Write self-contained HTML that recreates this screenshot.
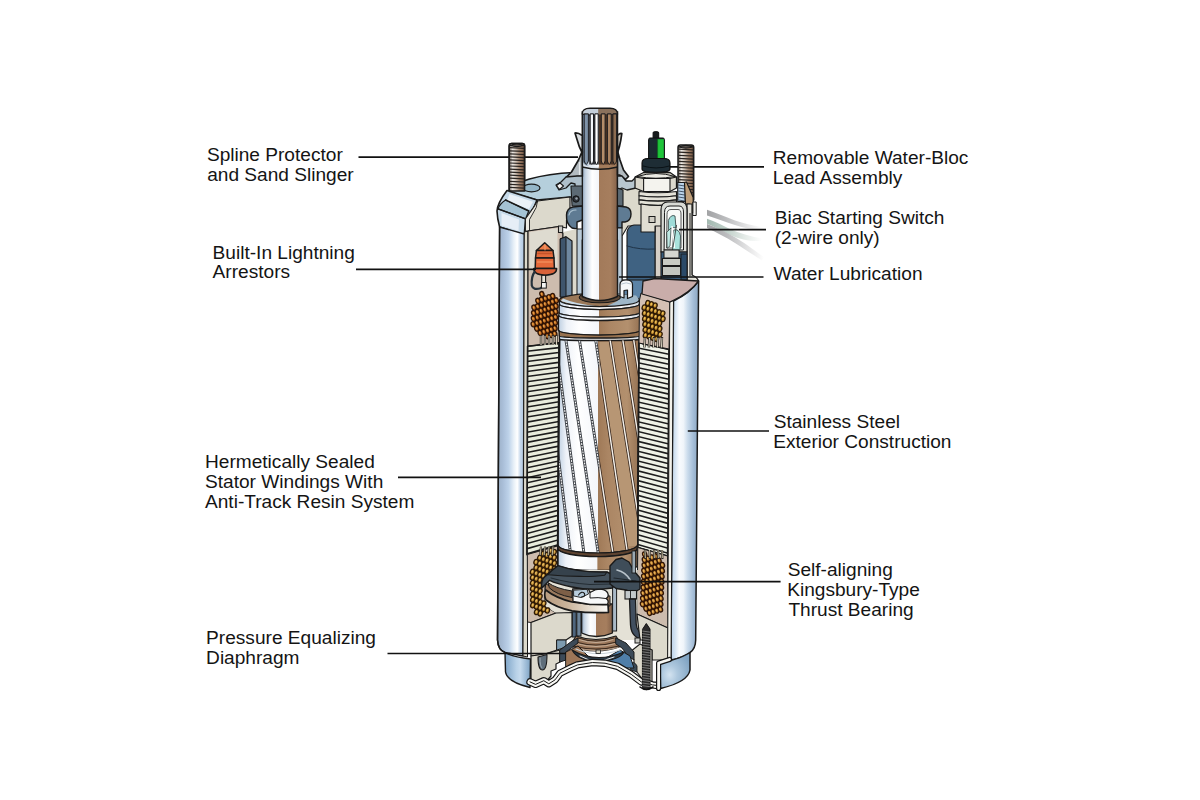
<!DOCTYPE html>
<html lang="en"><head><meta charset="utf-8"><title>Submersible Motor Cutaway</title>
<style>html,body{margin:0;padding:0;background:#fff}svg{display:block}</style></head>
<body>
<svg width="1200" height="800" viewBox="0 0 1200 800">

<defs>
<linearGradient id="shL" x1="0" x2="1" y1="0" y2="0">
 <stop offset="0" stop-color="#9cb0c6"/><stop offset="0.2" stop-color="#a9bed8"/><stop offset="0.42" stop-color="#bed3ea"/>
 <stop offset="0.6" stop-color="#e6eff7"/><stop offset="0.74" stop-color="#ffffff"/><stop offset="0.86" stop-color="#c4d6ea"/><stop offset="1" stop-color="#aec5e0"/>
</linearGradient>
<linearGradient id="shR" x1="0" x2="1" y1="0" y2="0">
 <stop offset="0" stop-color="#b9d0e8"/><stop offset="0.15" stop-color="#d5e4f2"/><stop offset="0.3" stop-color="#f8fbfe"/>
 <stop offset="0.45" stop-color="#f0f5fa"/><stop offset="0.6" stop-color="#cbdcec"/><stop offset="0.8" stop-color="#a5bed8"/><stop offset="1" stop-color="#8aa5c0"/>
</linearGradient>
<linearGradient id="capB" x1="0" x2="1" y1="0" y2="0">
 <stop offset="0" stop-color="#7fa5c8"/><stop offset="0.45" stop-color="#b9d2e8"/><stop offset="0.6" stop-color="#c6dbee"/><stop offset="1" stop-color="#7ea3c4"/>
</linearGradient>
<linearGradient id="shaft" x1="0" x2="1" y1="0" y2="0">
 <stop offset="0" stop-color="#93a9c0"/><stop offset="0.1" stop-color="#c9d6e4"/><stop offset="0.28" stop-color="#ffffff"/>
 <stop offset="0.475" stop-color="#f2f4f8"/><stop offset="0.48" stop-color="#a27a5a"/><stop offset="0.8" stop-color="#a67e5e"/><stop offset="1" stop-color="#84624a"/>
</linearGradient>
<linearGradient id="spl" x1="0" x2="1" y1="0" y2="0">
 <stop offset="0" stop-color="#66798e"/><stop offset="0.22" stop-color="#93a7bc"/><stop offset="0.4" stop-color="#dfe6ee"/><stop offset="1" stop-color="#ffffff"/>
</linearGradient>
<linearGradient id="rotor" x1="0" x2="1" y1="0" y2="0">
 <stop offset="0" stop-color="#bfd0e2"/><stop offset="0.1" stop-color="#eef2f8"/><stop offset="0.25" stop-color="#ffffff"/>
 <stop offset="0.495" stop-color="#f4f6fa"/><stop offset="0.5" stop-color="#a07a58"/><stop offset="0.62" stop-color="#ab8664"/><stop offset="0.85" stop-color="#b3906e"/><stop offset="1" stop-color="#957253"/>
</linearGradient>
<linearGradient id="rotorW" x1="0" x2="1" y1="0" y2="0">
 <stop offset="0" stop-color="#c5d8ea"/><stop offset="0.12" stop-color="#f2f5fa"/><stop offset="0.5" stop-color="#ffffff"/><stop offset="0.8" stop-color="#f4f4f4"/><stop offset="1" stop-color="#d5dde6"/>
</linearGradient>
<linearGradient id="rim" x1="0" x2="1" y1="0" y2="0">
 <stop offset="0" stop-color="#b89c80"/><stop offset="0.35" stop-color="#c9b39a"/><stop offset="0.7" stop-color="#e6ddd0"/><stop offset="1" stop-color="#fbfaf8"/>
</linearGradient>
<radialGradient id="capBR" cx="0.32" cy="0.62" r="0.75">
 <stop offset="0" stop-color="#d3e3f0"/><stop offset="0.35" stop-color="#aec8de"/><stop offset="1" stop-color="#7fa3c2"/>
</radialGradient>
<linearGradient id="stud" x1="0" x2="1" y1="0" y2="0">
 <stop offset="0" stop-color="#6e665f"/><stop offset="0.22" stop-color="#ece9e4"/><stop offset="0.45" stop-color="#cbbdb0"/><stop offset="0.65" stop-color="#a38670"/><stop offset="0.85" stop-color="#8a6a54"/><stop offset="1" stop-color="#4a3a30"/>
</linearGradient>
<linearGradient id="wire" x1="0" x2="1" y1="0" y2="0">
 <stop offset="0" stop-color="#a2a3a5"/><stop offset="0.35" stop-color="#bcbdbf"/><stop offset="0.7" stop-color="#e2e2e3"/><stop offset="1" stop-color="#ffffff"/>
</linearGradient>
<linearGradient id="wire2" x1="0" x2="1" y1="0" y2="0">
 <stop offset="0" stop-color="#a3b9b0"/><stop offset="0.35" stop-color="#c0d0c9"/><stop offset="0.7" stop-color="#e6ece9"/><stop offset="1" stop-color="#ffffff"/>
</linearGradient>
</defs>

<rect width="1200" height="800" fill="#ffffff"/>
<path d="M707,209.7 C716,213 726,217 735,220.4 C744,223.5 752,225.3 762,227 L762,229.5 C752,229.5 744,228 735,224.9 C726,222 716,218.5 707,215.5 Z" fill="url(#wire)" stroke="none" stroke-width="0" stroke-linejoin="round" stroke-linecap="round" />
<path d="M707,218.7 C715,221.5 723,225.5 729.4,228.8 C740,233.5 750,236.5 762,238.5 L762,241 C750,241.5 740,239.5 729,234.5 C722,231 715,227 707,223.7 Z" fill="url(#wire2)" stroke="none" stroke-width="0" stroke-linejoin="round" stroke-linecap="round" />
<path d="M707,223.9 C716,227 726,232 735,237.2 C744,242.5 752,248.5 764,257 L762,260.5 C752,254 744,248.5 735,242.9 C726,237.5 716,232 707,228 Z" fill="url(#wire)" stroke="none" stroke-width="0" stroke-linejoin="round" stroke-linecap="round" />
<line x1="358.5" y1="157.1" x2="578.0" y2="157.1" stroke="#111" stroke-width="1.7" />
<line x1="668.0" y1="166.8" x2="764.0" y2="166.8" stroke="#111" stroke-width="1.7" />
<path d="M509.2,192 L509.2,146.0 Q509.2,143.5 511.7,143.5 L522.1,143.5 Q524.6,143.5 524.6,146.0 L524.6,192 Z" fill="url(#stud)" stroke="#1a1a1a" stroke-width="1.5" stroke-linejoin="round" stroke-linecap="round" />
<line x1="509.7" y1="147.7" x2="524.1" y2="148.4" stroke="#2a2420" stroke-width="1.2" />
<line x1="509.7" y1="150.8" x2="524.1" y2="151.4" stroke="#2a2420" stroke-width="1.2" />
<line x1="509.7" y1="153.8" x2="524.1" y2="154.5" stroke="#2a2420" stroke-width="1.2" />
<line x1="509.7" y1="156.9" x2="524.1" y2="157.6" stroke="#2a2420" stroke-width="1.2" />
<line x1="509.7" y1="159.9" x2="524.1" y2="160.6" stroke="#2a2420" stroke-width="1.2" />
<line x1="509.7" y1="163.0" x2="524.1" y2="163.7" stroke="#2a2420" stroke-width="1.2" />
<line x1="509.7" y1="166.0" x2="524.1" y2="166.7" stroke="#2a2420" stroke-width="1.2" />
<line x1="509.7" y1="169.1" x2="524.1" y2="169.8" stroke="#2a2420" stroke-width="1.2" />
<line x1="509.7" y1="172.1" x2="524.1" y2="172.8" stroke="#2a2420" stroke-width="1.2" />
<line x1="509.7" y1="175.2" x2="524.1" y2="175.9" stroke="#2a2420" stroke-width="1.2" />
<line x1="509.7" y1="178.2" x2="524.1" y2="178.9" stroke="#2a2420" stroke-width="1.2" />
<line x1="509.7" y1="181.3" x2="524.1" y2="182.0" stroke="#2a2420" stroke-width="1.2" />
<line x1="509.7" y1="184.3" x2="524.1" y2="185.0" stroke="#2a2420" stroke-width="1.2" />
<line x1="509.7" y1="187.4" x2="524.1" y2="188.1" stroke="#2a2420" stroke-width="1.2" />
<line x1="509.7" y1="190.4" x2="524.1" y2="191.1" stroke="#2a2420" stroke-width="1.2" />
<path d="M510.2,145.5 Q516.9,142.3 523.6,145.5 Q516.9,147.7 510.2,145.5 Z" fill="#5e5650" stroke="#1a1a1a" stroke-width="1.1" stroke-linejoin="round" stroke-linecap="round" />
<path d="M678,200 L678,147.5 Q678,145 680.5,145 L691.2,145 Q693.7,145 693.7,147.5 L693.7,200 Z" fill="url(#stud)" stroke="#1a1a1a" stroke-width="1.5" stroke-linejoin="round" stroke-linecap="round" />
<line x1="678.5" y1="149.2" x2="693.2" y2="149.9" stroke="#2a2420" stroke-width="1.2" />
<line x1="678.5" y1="152.2" x2="693.2" y2="152.9" stroke="#2a2420" stroke-width="1.2" />
<line x1="678.5" y1="155.3" x2="693.2" y2="156.0" stroke="#2a2420" stroke-width="1.2" />
<line x1="678.5" y1="158.4" x2="693.2" y2="159.1" stroke="#2a2420" stroke-width="1.2" />
<line x1="678.5" y1="161.4" x2="693.2" y2="162.1" stroke="#2a2420" stroke-width="1.2" />
<line x1="678.5" y1="164.5" x2="693.2" y2="165.2" stroke="#2a2420" stroke-width="1.2" />
<line x1="678.5" y1="167.5" x2="693.2" y2="168.2" stroke="#2a2420" stroke-width="1.2" />
<line x1="678.5" y1="170.6" x2="693.2" y2="171.3" stroke="#2a2420" stroke-width="1.2" />
<line x1="678.5" y1="173.6" x2="693.2" y2="174.3" stroke="#2a2420" stroke-width="1.2" />
<line x1="678.5" y1="176.7" x2="693.2" y2="177.4" stroke="#2a2420" stroke-width="1.2" />
<line x1="678.5" y1="179.7" x2="693.2" y2="180.4" stroke="#2a2420" stroke-width="1.2" />
<line x1="678.5" y1="182.8" x2="693.2" y2="183.5" stroke="#2a2420" stroke-width="1.2" />
<line x1="678.5" y1="185.8" x2="693.2" y2="186.5" stroke="#2a2420" stroke-width="1.2" />
<line x1="678.5" y1="188.9" x2="693.2" y2="189.6" stroke="#2a2420" stroke-width="1.2" />
<line x1="678.5" y1="191.9" x2="693.2" y2="192.6" stroke="#2a2420" stroke-width="1.2" />
<line x1="678.5" y1="195.0" x2="693.2" y2="195.7" stroke="#2a2420" stroke-width="1.2" />
<line x1="678.5" y1="198.0" x2="693.2" y2="198.7" stroke="#2a2420" stroke-width="1.2" />
<path d="M679,147 Q685.85,143.8 692.7,147 Q685.85,149.2 679,147 Z" fill="#5e5650" stroke="#1a1a1a" stroke-width="1.1" stroke-linejoin="round" stroke-linecap="round" />
<path d="M509,192 C511,182 540,174 574,172.5 L583,172.3 L583,197 L570,197 L537,200 Z" fill="#b5cfdc" stroke="#1a1a1a" stroke-width="1.5" stroke-linejoin="round" stroke-linecap="round" />
<ellipse cx="531.5" cy="188" rx="8.5" ry="3.8" fill="#94b6c8" stroke="#1a1a1a" stroke-width="1.2"/>
<path d="M509.2,191 L509.2,146.0 Q509.2,143.5 511.7,143.5 L522.1,143.5 Q524.6,143.5 524.6,146.0 L524.6,191 Z" fill="url(#stud)" stroke="#1a1a1a" stroke-width="1.5" stroke-linejoin="round" stroke-linecap="round" />
<line x1="509.7" y1="147.7" x2="524.1" y2="148.4" stroke="#2a2420" stroke-width="1.2" />
<line x1="509.7" y1="150.8" x2="524.1" y2="151.4" stroke="#2a2420" stroke-width="1.2" />
<line x1="509.7" y1="153.8" x2="524.1" y2="154.5" stroke="#2a2420" stroke-width="1.2" />
<line x1="509.7" y1="156.9" x2="524.1" y2="157.6" stroke="#2a2420" stroke-width="1.2" />
<line x1="509.7" y1="159.9" x2="524.1" y2="160.6" stroke="#2a2420" stroke-width="1.2" />
<line x1="509.7" y1="163.0" x2="524.1" y2="163.7" stroke="#2a2420" stroke-width="1.2" />
<line x1="509.7" y1="166.0" x2="524.1" y2="166.7" stroke="#2a2420" stroke-width="1.2" />
<line x1="509.7" y1="169.1" x2="524.1" y2="169.8" stroke="#2a2420" stroke-width="1.2" />
<line x1="509.7" y1="172.1" x2="524.1" y2="172.8" stroke="#2a2420" stroke-width="1.2" />
<line x1="509.7" y1="175.2" x2="524.1" y2="175.9" stroke="#2a2420" stroke-width="1.2" />
<line x1="509.7" y1="178.2" x2="524.1" y2="178.9" stroke="#2a2420" stroke-width="1.2" />
<line x1="509.7" y1="181.3" x2="524.1" y2="182.0" stroke="#2a2420" stroke-width="1.2" />
<line x1="509.7" y1="184.3" x2="524.1" y2="185.0" stroke="#2a2420" stroke-width="1.2" />
<line x1="509.7" y1="187.4" x2="524.1" y2="188.1" stroke="#2a2420" stroke-width="1.2" />
<path d="M510.2,145.5 Q516.9,142.3 523.6,145.5 Q516.9,147.7 510.2,145.5 Z" fill="#5e5650" stroke="#1a1a1a" stroke-width="1.1" stroke-linejoin="round" stroke-linecap="round" />
<path d="M507,190.5 L537,200 L534,207 L525.5,219 L524.3,235 L499.6,227 Q497.2,218 497,211 Q497.5,203 507,190.5 Z" fill="#c5d9e8" stroke="#1a1a1a" stroke-width="1.6" stroke-linejoin="round" stroke-linecap="round" />
<path d="M505.6,200 L528.8,211 L525.6,218.8 L498,208.8 Q500,203.5 505.6,200 Z" fill="#a5c3d4" stroke="#1a1a1a" stroke-width="1.3" stroke-linejoin="round" stroke-linecap="round" />
<path d="M509.5,194 L533,201.8 L529,209 L507,201 Z" fill="#eaf1f7" stroke="none" stroke-width="0" stroke-linejoin="round" stroke-linecap="round" />
<path d="M501.5,213 L519,219.5 L518.5,231 L501.5,225.5 Z" fill="#e6eef6" stroke="none" stroke-width="0" stroke-linejoin="round" stroke-linecap="round" />
<path d="M498,208.8 L525.6,218.8" fill="none" stroke="#1a1a1a" stroke-width="1.4" stroke-linejoin="round" stroke-linecap="round" />
<path d="M505.6,200 L528.8,211" fill="none" stroke="#1a1a1a" stroke-width="1.4" stroke-linejoin="round" stroke-linecap="round" />
<path d="M499.6,227 L497.5,640 Q498,650 505,652.5 L523,656 L524.3,234 Z" fill="url(#shL)" stroke="#1a1a1a" stroke-width="1.4" stroke-linejoin="round" stroke-linecap="round" />
<path d="M505,652.5 L505.5,672 Q507,682 530,687.5 L530.5,659 Q512,657 505,652.5 Z" fill="url(#capB)" stroke="#1a1a1a" stroke-width="1.4" stroke-linejoin="round" stroke-linecap="round" />
<polygon points="524.3,232.0 528.0,231.0 527.5,657.0 523.0,656.0" fill="#dcd9cc" stroke="#1a1a1a" stroke-width="1.0" stroke-linejoin="round" />
<polygon points="537.5,201.0 570.0,197.0 570.0,215.0 566.5,220.0 566.5,228.0 559.0,226.5 528.0,231.0 528.0,220.0 534.0,207.0" fill="#dcd9cc" stroke="#1a1a1a" stroke-width="1.2" stroke-linejoin="round" />
<polygon points="534.0,207.0 537.5,201.0 536.2,207.5 529.5,219.5 529.5,230.5 528.0,231.0 525.5,231.0 525.5,219.0" fill="#eceae2" stroke="#1a1a1a" stroke-width="0.9" stroke-linejoin="round" />
<polygon points="528.0,231.0 559.0,226.5 559.0,232.0 563.0,233.0 563.0,296.0 559.5,300.0 559.5,343.0 528.0,346.5" fill="#cdbcae" stroke="#1a1a1a" stroke-width="1.1" stroke-linejoin="round" />
<polygon points="529.5,232.0 557.5,228.0 557.5,271.0 529.5,271.0" fill="#dedbd0" stroke="none" stroke-width="0" stroke-linejoin="round" />
<polygon points="620.0,186.0 640.0,186.0 640.0,203.0 652.0,205.0 652.0,226.0 628.0,226.0 622.0,236.0 622.0,300.0 617.5,300.0 617.5,186.0" fill="#dcd9cc" stroke="#1a1a1a" stroke-width="1.1" stroke-linejoin="round" />
<polygon points="655.0,204.0 692.0,204.0 692.0,275.0 698.6,281.0 655.0,282.0" fill="#d6cfc6" stroke="#1a1a1a" stroke-width="1.0" stroke-linejoin="round" />
<path d="M627,232 Q628,226 634,225 L655,225 L655,290 L627,290 Z" fill="#3f6282" stroke="#1a1a1a" stroke-width="1.1" stroke-linejoin="round" stroke-linecap="round" />
<path d="M627,246 Q640,250 655,249" fill="none" stroke="#1f3347" stroke-width="1" stroke-linejoin="round" stroke-linecap="round" />
<path d="M622,280 L655,280 L655,296 Q640,304 622,300 Z" fill="#5c83a6" stroke="#1a1a1a" stroke-width="1.0" stroke-linejoin="round" stroke-linecap="round" />
<rect x="582.3" y="112.0" width="35.2" height="190.0" fill="url(#shaft)" stroke="#1a1a1a" stroke-width="1.5" />
<rect x="583.0" y="113.0" width="15.2" height="54.0" fill="url(#spl)" stroke="none" stroke-width="0" />
<path d="M582.3,114 Q582.3,108.2 590,108.2 L610,108.2 Q617.5,108.2 617.5,114 Q600,117.5 582.3,114 Z" fill="#8a715c" stroke="#1a1a1a" stroke-width="1.4" stroke-linejoin="round" stroke-linecap="round" />
<path d="M583,113.5 Q583,109 590,109 L598.2,109 L598.2,115.3 Q590,115 583,113.5 Z" fill="#c5cfda" stroke="none" stroke-width="0" stroke-linejoin="round" stroke-linecap="round" />
<rect x="589.2" y="114.5" width="9.6" height="50.0" fill="#2e3036" stroke="none" stroke-width="0" />
<rect x="598.8" y="114.5" width="18.0" height="50.0" fill="#4a3323" stroke="none" stroke-width="0" />
<path d="M584.2,114.2 L584.2,161 Q586.3,167.5 588.4,161 L588.4,114.2 Z" fill="#7f93a9" stroke="#1d1d20" stroke-width="1.0" stroke-linejoin="round" stroke-linecap="round" />
<path d="M590.2,114.2 L590.2,161 Q591.85,167.5 593.5,161 L593.5,114.2 Z" fill="#f2f5f8" stroke="#1d1d20" stroke-width="1.0" stroke-linejoin="round" stroke-linecap="round" />
<path d="M594.9,114.2 L594.9,161 Q596.55,167.5 598.2,161 L598.2,114.2 Z" fill="#ffffff" stroke="#1d1d20" stroke-width="1.0" stroke-linejoin="round" stroke-linecap="round" />
<path d="M601.3,114.2 L601.3,161 Q603.2,167.5 605.1,161 L605.1,114.2 Z" fill="#b38d6a" stroke="#1d1d20" stroke-width="1.0" stroke-linejoin="round" stroke-linecap="round" />
<path d="M607.4,114.2 L607.4,161 Q609.3,167.5 611.2,161 L611.2,114.2 Z" fill="#aa8462" stroke="#1d1d20" stroke-width="1.0" stroke-linejoin="round" stroke-linecap="round" />
<path d="M612.9,114.2 L612.9,161 Q614.75,167.5 616.6,161 L616.6,114.2 Z" fill="#8d6c50" stroke="#1d1d20" stroke-width="1.0" stroke-linejoin="round" stroke-linecap="round" />
<path d="M582.3,160 Q584,166.5 589.5,166.5 L598.7,166.8 L598.7,169 L582.3,167.5 Z" fill="#dfe6ee" stroke="none" stroke-width="0" stroke-linejoin="round" stroke-linecap="round" />
<path d="M598.7,166.8 L612,166.5 Q616,165 617.5,160 L617.5,167.5 L598.7,169.5 Z" fill="#a37b5a" stroke="none" stroke-width="0" stroke-linejoin="round" stroke-linecap="round" />
<path d="M582.3,167 Q600,171.5 617.5,167" fill="none" stroke="#1a1a1a" stroke-width="1.3" stroke-linejoin="round" stroke-linecap="round" />
<path d="M582.3,151 L578.5,160 L571.5,172 L566,177.5 L569,180.5 L577,176.5 L582.3,176.5 Z" fill="#b3bbc0" stroke="#1a1a1a" stroke-width="1.7" stroke-linejoin="round" stroke-linecap="round" />
<path d="M617.5,151 L620,160 L623.5,170 L628.5,176.5 L625.5,179.5 L619.5,175 L617.5,175 Z" fill="#b3bbc0" stroke="#1a1a1a" stroke-width="1.7" stroke-linejoin="round" stroke-linecap="round" />
<line x1="579.5" y1="162.0" x2="579.5" y2="175.0" stroke="#e4e8ea" stroke-width="1.2" />
<path d="M575.0,133.0 Q578,132.6 582.3,135.5 L582.3,153 Q578.6,146 577.2,140 Z" fill="#d9dde0" stroke="#1a1a1a" stroke-width="1.7" stroke-linejoin="round" stroke-linecap="round" />
<path d="M621.8,133.6 Q620,132.8 617.5,135.5 L617.5,153 Q619.8,146 620.8,140 Z" fill="#cfc8be" stroke="#1a1a1a" stroke-width="1.7" stroke-linejoin="round" stroke-linecap="round" />
<path d="M566,177 L561,182 L556,185 L559,190 L566,188 L571,183 L575,184 L575,200 L582.3,200 L582.3,176 L577,176 Z" fill="#aebfca" stroke="#1a1a1a" stroke-width="1.3" stroke-linejoin="round" stroke-linecap="round" />
<path d="M556.5,185.5 L560,183 L563.5,186 L559.5,189.5 Z" fill="#f4f4f4" stroke="#1a1a1a" stroke-width="1.1" stroke-linejoin="round" stroke-linecap="round" />
<path d="M571,186 L582.3,186 L582.3,206 L572,206 Z" fill="#5c6a74" stroke="#1a1a1a" stroke-width="1.1" stroke-linejoin="round" stroke-linecap="round" />
<circle cx="576" cy="199" r="3.2" fill="#2c3238" stroke="#111" stroke-width="1"/>
<circle cx="576.5" cy="198.5" r="1.2" fill="#9aa4ac"/>
<path d="M617.5,176 L622,176 L626,181 L632,181 L636,177 L640,180 L636,188 L627,190 L622,188 L617.5,190 Z" fill="#b8c6cf" stroke="#1a1a1a" stroke-width="1.3" stroke-linejoin="round" stroke-linecap="round" />
<path d="M617.5,188 L623,190 L623,206 L617.5,206 Z" fill="#5c6a74" stroke="#1a1a1a" stroke-width="1.1" stroke-linejoin="round" stroke-linecap="round" />
<path d="M582.3,206 L573,207 Q567,208 566.5,215 Q566,224 572,228 L577,229 L577,222 L582.3,220 Z" fill="#5f7b93" stroke="#1a1a1a" stroke-width="1.4" stroke-linejoin="round" stroke-linecap="round" />
<path d="M569,215 Q570,210 576,210" fill="none" stroke="#a9c0cf" stroke-width="1.2" stroke-linejoin="round" stroke-linecap="round" />
<path d="M617.5,206 L626,207 Q631,208 631,214 Q631,221 625,222 L622,222 L622,228 L617.5,228 Z" fill="#5f7b93" stroke="#1a1a1a" stroke-width="1.4" stroke-linejoin="round" stroke-linecap="round" />
<polygon points="563.0,232.0 577.0,229.0 577.0,297.0 563.0,297.0" fill="#dcd9cc" stroke="none" stroke-width="0" stroke-linejoin="round" />
<line x1="563.0" y1="233.0" x2="563.0" y2="296.0" stroke="#1a1a1a" stroke-width="1.0" />
<rect x="577.0" y="229.0" width="5.3" height="68.0" fill="#b9cbd9" stroke="#1a1a1a" stroke-width="1.0" />
<rect x="617.5" y="228.0" width="4.5" height="70.0" fill="#b9cbd9" stroke="#1a1a1a" stroke-width="1.0" />
<path d="M560.5,238.8 L566,236.8 L572,241 L572,297 L560.5,297 Z" fill="#6f88a0" stroke="#1a1a1a" stroke-width="1.2" stroke-linejoin="round" stroke-linecap="round" />
<path d="M560.5,238.8 L566,236.8 L566,297 L560.5,297 Z" fill="#3f556c" stroke="#1a1a1a" stroke-width="1.0" stroke-linejoin="round" stroke-linecap="round" />
<rect x="558.5" y="226.0" width="4.2" height="6.5" fill="#c9c9c4" stroke="#1a1a1a" stroke-width="1.0" />
<path d="M544.7,242.7 L553,250.5 L536.4,250.5 Z" fill="#ea7a46" stroke="#1a1a1a" stroke-width="1.5" stroke-linejoin="round" stroke-linecap="round" />
<path d="M536.4,250.5 L553,250.5 L554,258 L535.5,258 Z" fill="#e26b3c" stroke="#1a1a1a" stroke-width="1.5" stroke-linejoin="round" stroke-linecap="round" />
<path d="M535.5,258 L554,258 L554.4,268.5 L535.2,268.5 Z" fill="#e4693a" stroke="#1a1a1a" stroke-width="1.5" stroke-linejoin="round" stroke-linecap="round" />
<path d="M533.8,268.5 L556.6,268.5 Q557,274.5 545.2,275.3 Q533.4,274.5 533.8,268.5 Z" fill="#d9623a" stroke="#1a1a1a" stroke-width="1.5" stroke-linejoin="round" stroke-linecap="round" />
<path d="M538,253.5 L551,253.5" fill="none" stroke="#c4532a" stroke-width="1.6" stroke-linejoin="round" stroke-linecap="round" />
<path d="M537.5,262 L552,262" fill="none" stroke="#f08a58" stroke-width="1.4" stroke-linejoin="round" stroke-linecap="round" />
<path d="M545,245 L545,250" fill="none" stroke="#f4a070" stroke-width="1.0" stroke-linejoin="round" stroke-linecap="round" />
<rect x="541.7" y="275.3" width="3.9" height="7.4" fill="#e9e4da" stroke="#1a1a1a" stroke-width="1.1" />
<path d="M534.5,272 Q531,277 531.8,285.5 Q533,290.5 540.5,288.2 L542,287" fill="none" stroke="#26323c" stroke-width="2.2" stroke-linejoin="round" stroke-linecap="round" />
<rect x="541.5" y="282.5" width="4.8" height="5.6" fill="#f6f6f4" stroke="#1a1a1a" stroke-width="1.0" />
<rect x="653.1" y="131.7" width="5.6" height="8.0" fill="#161a1c" stroke="#0c0c0c" stroke-width="1.0" rx="1.2"/>
<rect x="648.6" y="138.0" width="15.8" height="22.5" fill="#1b2a30" stroke="#0c0c0c" stroke-width="1.0" rx="1.5"/>
<rect x="657.6" y="139.2" width="6.2" height="21.0" fill="#1fc43a" stroke="none" stroke-width="0" />
<line x1="657.6" y1="139.0" x2="657.6" y2="160.0" stroke="#0f6a1f" stroke-width="0.8" />
<path d="M642,163 Q642,158.5 648,158.5 L664,158.5 Q670,158.5 670,163 L670,169 Q670,172.5 656,172.5 Q642,172.5 642,169 Z" fill="#1e2d35" stroke="#0c0c0c" stroke-width="1.1" stroke-linejoin="round" stroke-linecap="round" />
<path d="M643,166 Q656,170 669.5,166" fill="none" stroke="#0a1216" stroke-width="1.0" stroke-linejoin="round" stroke-linecap="round" />
<path d="M635,177 L643.6,172.5 L670,172.5 L676.5,177 L676.5,188 L670,191.5 L643.6,191.5 L635,188 Z" fill="#dbd8cd" stroke="#1a1a1a" stroke-width="1.3" stroke-linejoin="round" stroke-linecap="round" />
<path d="M637,176.5 Q656,170.5 675,176.5 Q656,180 637,176.5 Z" fill="#ecebe4" stroke="#1a1a1a" stroke-width="1.0" stroke-linejoin="round" stroke-linecap="round" />
<path d="M643.6,178.5 L670,178.5 L670,191.5 L643.6,191.5 Z" fill="#f4f3ee" stroke="#1a1a1a" stroke-width="1.1" stroke-linejoin="round" stroke-linecap="round" />
<line x1="635.0" y1="177.0" x2="643.6" y2="178.5" stroke="#1a1a1a" stroke-width="1.1" />
<line x1="670.0" y1="178.5" x2="676.5" y2="177.0" stroke="#1a1a1a" stroke-width="1.1" />
<path d="M639,191.5 Q658,194.0 676.5,191.5 L676.5,195.7 Q658,198.2 639,195.7 Z" fill="#e4e2d8" stroke="#1a1a1a" stroke-width="1.1" stroke-linejoin="round" stroke-linecap="round" />
<path d="M639,195.7 Q658,198.2 676.5,195.7 L676.5,199.89999999999998 Q658,202.39999999999998 639,199.89999999999998 Z" fill="#e4e2d8" stroke="#1a1a1a" stroke-width="1.1" stroke-linejoin="round" stroke-linecap="round" />
<path d="M639,199.9 Q658,202.4 676.5,199.9 L676.5,204.1 Q658,206.6 639,204.1 Z" fill="#e4e2d8" stroke="#1a1a1a" stroke-width="1.1" stroke-linejoin="round" stroke-linecap="round" />
<path d="M641,204 Q658,207 676,204 L676,226 L655,226 L655,232 L641,232 Z" fill="#e0ddd2" stroke="#1a1a1a" stroke-width="1.1" stroke-linejoin="round" stroke-linecap="round" />
<rect x="649.0" y="216.5" width="6.0" height="6.0" fill="#cfccc2" stroke="#1a1a1a" stroke-width="1.0" />
<rect x="677.8" y="182.5" width="7.4" height="19.0" fill="#b9d2e8" stroke="#1a1a1a" stroke-width="1.0" />
<line x1="678.3" y1="185.0" x2="684.8" y2="186.0" stroke="#3a4a5c" stroke-width="0.9" />
<line x1="678.3" y1="188.0" x2="684.8" y2="189.0" stroke="#3a4a5c" stroke-width="0.9" />
<line x1="678.3" y1="191.0" x2="684.8" y2="192.0" stroke="#3a4a5c" stroke-width="0.9" />
<line x1="678.3" y1="194.0" x2="684.8" y2="195.0" stroke="#3a4a5c" stroke-width="0.9" />
<line x1="678.3" y1="197.0" x2="684.8" y2="198.0" stroke="#3a4a5c" stroke-width="0.9" />
<line x1="678.3" y1="200.0" x2="684.8" y2="201.0" stroke="#3a4a5c" stroke-width="0.9" />
<path d="M684.5,182.5 L686.5,182 L693.2,197.5 L693.2,212.5 L689.5,212.5 L689.5,204 L685.5,204 Z" fill="#bf9f7a" stroke="#1a1a1a" stroke-width="1.2" stroke-linejoin="round" stroke-linecap="round" />
<path d="M687,204 L692,204 L692,275 Q697,277 698.6,281 L687,282 Z" fill="#e4e2da" stroke="#1a1a1a" stroke-width="1.2" stroke-linejoin="round" stroke-linecap="round" />
<line x1="690.0" y1="213.0" x2="690.0" y2="276.0" stroke="#1a1a1a" stroke-width="1.0" />
<path d="M693.2,202 L696.2,202 L696.2,215.5 L693.2,215.5 Z" fill="#f2f2ee" stroke="#1a1a1a" stroke-width="1.0" stroke-linejoin="round" stroke-linecap="round" />
<path d="M661,210 Q661,202 668,202 L681,202 Q687,202 687,210 L687,252 L661,252 Z" fill="#d9dbd6" stroke="#1a1a1a" stroke-width="1.2" stroke-linejoin="round" stroke-linecap="round" />
<path d="M664.5,212 Q664.5,206 670,206 L679,206 Q683.5,206 683.5,212 L683.5,250 L664.5,250 Z" fill="#eef1ee" stroke="#1a1a1a" stroke-width="1.0" stroke-linejoin="round" stroke-linecap="round" />
<path d="M667,214 Q667,209.5 671,209.5 L678,209.5 Q681,209.5 681,214 L681,248 L667,248 Z" fill="#f7f9f7" stroke="#444" stroke-width="0.9" stroke-linejoin="round" stroke-linecap="round" />
<path d="M668.5,220 Q671,214 675,216 L676,228 Q671,226 668.5,232 Z" fill="#9fdcd8" stroke="#2a3a3a" stroke-width="0.8" stroke-linejoin="round" stroke-linecap="round" />
<path d="M674,230 Q679,228 680.5,236 L680,250 L673,250 Z" fill="#a9e2dc" stroke="#2a3a3a" stroke-width="0.8" stroke-linejoin="round" stroke-linecap="round" />
<path d="M667,232 L671,228 L670,246 L667.5,248 Z" fill="#bfe9e4" stroke="#2a3a3a" stroke-width="0.7" stroke-linejoin="round" stroke-linecap="round" />
<line x1="672.0" y1="226.0" x2="674.5" y2="248.0" stroke="#fff" stroke-width="1.4" />
<line x1="676.5" y1="225.0" x2="673.0" y2="247.0" stroke="#2a2a2a" stroke-width="0.8" />
<rect x="661.0" y="252.0" width="26.0" height="30.0" fill="#385c7c" stroke="#1a1a1a" stroke-width="1.1" />
<rect x="664.0" y="250.0" width="15.0" height="8.0" fill="#d5d6d0" stroke="#1a1a1a" stroke-width="1.0" />
<rect x="662.5" y="258.5" width="18.0" height="7.0" fill="#c9cbc4" stroke="#1a1a1a" stroke-width="1.0" />
<rect x="662.5" y="266.5" width="18.0" height="9.0" fill="#c3c6c0" stroke="#1a1a1a" stroke-width="1.0" />
<rect x="681.0" y="254.0" width="6.0" height="26.0" fill="#2b4a68" stroke="#1a1a1a" stroke-width="0.9" />
<line x1="655.0" y1="282.0" x2="698.6" y2="282.0" stroke="#1a1a1a" stroke-width="1.2" />
<ellipse cx="599.4" cy="300" rx="39.9" ry="6.6" fill="#9a7858" stroke="#1a1a1a" stroke-width="1.3"/>
<path d="M617.5,294 L636,295.5 Q640,299 638,302.5 Q628,306 606,306.5 L617.5,301 Z" fill="#9fb7c8" stroke="none" stroke-width="0" stroke-linejoin="round" stroke-linecap="round" />
<path d="M561,301 Q575,306.3 599,306.6 Q575,304 563,298.5 Z" fill="#c9dbe8" stroke="none" stroke-width="0" stroke-linejoin="round" stroke-linecap="round" />
<ellipse cx="599.8" cy="297.5" rx="20.5" ry="5.2" fill="#5f4a38" stroke="#1a1a1a" stroke-width="1.1"/>
<path d="M582.3,240 L582.3,296.5 Q600,304.5 617.5,296.5 L617.5,240 Z" fill="url(#shaft)" stroke="none" stroke-width="0" stroke-linejoin="round" stroke-linecap="round" />
<path d="M582.3,240 L582.3,296.5 Q600,304.5 617.5,296.5 L617.5,240" fill="none" stroke="#1a1a1a" stroke-width="1.4" stroke-linejoin="round" stroke-linecap="round" />
<path d="M620,284.5 Q620,280 626,280 Q632.5,280 632.5,284.5 L632.5,296.5 L627.5,298.5 L627.5,290 L624,290.5 L624,298 L620,296.5 Z" fill="#f6f7f8" stroke="#1a1a1a" stroke-width="1.2" stroke-linejoin="round" stroke-linecap="round" />
<path d="M621.5,284 Q626,281.5 631,284" fill="none" stroke="#b9c6d0" stroke-width="1.0" stroke-linejoin="round" stroke-linecap="round" />
<path d="M559.5,300.0 A39.9,6.6 0 0 0 639.3,300.0 L639.3,304.0 A39.9,5.6 0 0 1 559.5,304.0 Z" fill="url(#rotorW)" stroke="#1a1a1a" stroke-width="1.2" stroke-linejoin="round" stroke-linecap="round" />
<path d="M559.2,304.0 A40.2,5.6 0 0 0 639.6,304.0 L639.6,312.5 A40.2,4.6 0 0 1 559.2,312.5 Z" fill="url(#rotor)" stroke="#1a1a1a" stroke-width="1.2" stroke-linejoin="round" stroke-linecap="round" />
<path d="M558.9,312.5 A40.4,4.6 0 0 0 639.8,312.5 L639.8,315.5 A40.4,5.0 0 0 1 558.9,315.5 Z" fill="url(#rotorW)" stroke="#1a1a1a" stroke-width="1.2" stroke-linejoin="round" stroke-linecap="round" />
<path d="M558.5,315.5 A40.8,5.0 0 0 0 640.1,315.5 L640.1,330.5 A40.8,4.6 0 0 1 558.5,330.5 Z" fill="url(#rotor)" stroke="#1a1a1a" stroke-width="1.3" stroke-linejoin="round" stroke-linecap="round" />
<path d="M559.2,330.5 A40.2,4.6 0 0 0 639.6,330.5 L639.6,336.0 A40.2,2.2 0 0 1 559.2,336.0 Z" fill="#96714f" stroke="#1a1a1a" stroke-width="1.2" stroke-linejoin="round" stroke-linecap="round" />
<path d="M559.5,336.0 A39.9,2.2 0 0 0 639.3,336.0 L639.3,339.5 A39.9,1.2 0 0 1 559.5,339.5 Z" fill="url(#rotorW)" stroke="#1a1a1a" stroke-width="1.2" stroke-linejoin="round" stroke-linecap="round" />
<path d="M559.8,339.5 A40,1.2 0 0 0 639.0,339.5 L637.3,545 A39,8 0 0 1 558.0,545 Z" fill="url(#rotor)" stroke="#1a1a1a" stroke-width="1.4" stroke-linejoin="round" stroke-linecap="round" />
<clipPath id="rcL"><path d="M559.8,339.5 A40,1.2 0 0 0 599.5,340.7 L599.5,553 A39,8 0 0 1 558,545 Z"/></clipPath>
<clipPath id="rcR"><path d="M599.5,340.7 A40,1.2 0 0 0 639,339.5 L637.3,545 A39,8 0 0 1 599.5,553 Z"/></clipPath>
<g clip-path="url(#rcL)">
<line x1="543.2" y1="338.0" x2="571.1" y2="558.0" stroke="#3a3e44" stroke-width="2.9" />
<line x1="543.2" y1="338.0" x2="571.1" y2="558.0" stroke="#f8f8f8" stroke-width="1.15" stroke-dasharray="1.8 1.0"/>
<line x1="555.0" y1="338.0" x2="584.6" y2="558.0" stroke="#3a3e44" stroke-width="2.9" />
<line x1="555.0" y1="338.0" x2="584.6" y2="558.0" stroke="#f8f8f8" stroke-width="1.15" stroke-dasharray="1.8 1.0"/>
<line x1="565.6" y1="338.0" x2="599.0" y2="558.0" stroke="#3a3e44" stroke-width="2.9" />
<line x1="565.6" y1="338.0" x2="599.0" y2="558.0" stroke="#f8f8f8" stroke-width="1.15" stroke-dasharray="1.8 1.0"/>
<line x1="579.1" y1="338.0" x2="613.7" y2="558.0" stroke="#3a3e44" stroke-width="2.9" />
<line x1="579.1" y1="338.0" x2="613.7" y2="558.0" stroke="#f8f8f8" stroke-width="1.15" stroke-dasharray="1.8 1.0"/>
<line x1="595.4" y1="338.0" x2="628.2" y2="558.0" stroke="#3a3e44" stroke-width="2.9" />
<line x1="595.4" y1="338.0" x2="628.2" y2="558.0" stroke="#f8f8f8" stroke-width="1.15" stroke-dasharray="1.8 1.0"/>
<line x1="609.8" y1="338.0" x2="644.9" y2="558.0" stroke="#3a3e44" stroke-width="2.9" />
<line x1="609.8" y1="338.0" x2="644.9" y2="558.0" stroke="#f8f8f8" stroke-width="1.15" stroke-dasharray="1.8 1.0"/>
<line x1="622.5" y1="338.0" x2="657.6" y2="558.0" stroke="#3a3e44" stroke-width="2.9" />
<line x1="622.5" y1="338.0" x2="657.6" y2="558.0" stroke="#f8f8f8" stroke-width="1.15" stroke-dasharray="1.8 1.0"/>
<line x1="633.4" y1="338.0" x2="667.9" y2="558.0" stroke="#3a3e44" stroke-width="2.9" />
<line x1="633.4" y1="338.0" x2="667.9" y2="558.0" stroke="#f8f8f8" stroke-width="1.15" stroke-dasharray="1.8 1.0"/>
</g>
<g clip-path="url(#rcR)">
<polygon points="596.0,342.0 610.4,342.0 643.0,546.0 626.4,546.0" fill="#b79674" stroke="none" stroke-width="0" stroke-linejoin="round" />
<line x1="543.2" y1="338.0" x2="571.1" y2="558.0" stroke="#34241a" stroke-width="3.0" />
<line x1="543.2" y1="338.0" x2="571.1" y2="558.0" stroke="#f4f0ea" stroke-width="1.45" />
<line x1="555.0" y1="338.0" x2="584.6" y2="558.0" stroke="#34241a" stroke-width="3.0" />
<line x1="555.0" y1="338.0" x2="584.6" y2="558.0" stroke="#f4f0ea" stroke-width="1.45" />
<line x1="565.6" y1="338.0" x2="599.0" y2="558.0" stroke="#34241a" stroke-width="3.0" />
<line x1="565.6" y1="338.0" x2="599.0" y2="558.0" stroke="#f4f0ea" stroke-width="1.45" />
<line x1="579.1" y1="338.0" x2="613.7" y2="558.0" stroke="#34241a" stroke-width="3.0" />
<line x1="579.1" y1="338.0" x2="613.7" y2="558.0" stroke="#f4f0ea" stroke-width="1.45" />
<line x1="595.4" y1="338.0" x2="628.2" y2="558.0" stroke="#34241a" stroke-width="3.0" />
<line x1="595.4" y1="338.0" x2="628.2" y2="558.0" stroke="#f4f0ea" stroke-width="1.45" />
<line x1="609.8" y1="338.0" x2="644.9" y2="558.0" stroke="#34241a" stroke-width="3.0" />
<line x1="609.8" y1="338.0" x2="644.9" y2="558.0" stroke="#f4f0ea" stroke-width="1.45" />
<line x1="622.5" y1="338.0" x2="657.6" y2="558.0" stroke="#34241a" stroke-width="3.0" />
<line x1="622.5" y1="338.0" x2="657.6" y2="558.0" stroke="#f4f0ea" stroke-width="1.45" />
<line x1="633.4" y1="338.0" x2="667.9" y2="558.0" stroke="#34241a" stroke-width="3.0" />
<line x1="633.4" y1="338.0" x2="667.9" y2="558.0" stroke="#f4f0ea" stroke-width="1.45" />
</g>
<path d="M558.0,545.0 A39.6,8 0 0 0 637.3,545.0 L637.3,548.6 A39.6,8 0 0 1 558.0,548.6 Z" fill="#5e4330" stroke="#1a1a1a" stroke-width="1.2" stroke-linejoin="round" stroke-linecap="round" />
<path d="M558.0,548.6 A39.6,8 0 0 0 637.3,548.6 L637.3,566.0 A39.6,4.5 0 0 1 558.0,566.0 Z" fill="url(#rotor)" stroke="#1a1a1a" stroke-width="1.4" stroke-linejoin="round" stroke-linecap="round" />
<clipPath id="sl"><polygon points="527.6,346.3 559,342.7 557.6,546 527,554.6"/></clipPath>
<polygon points="527.6,346.3 559.0,342.7 557.6,546.0 527.0,554.6" fill="#e9ecdd" stroke="#1a1a1a" stroke-width="1.2" stroke-linejoin="round" />
<g clip-path="url(#sl)" stroke="#1c1c1c" stroke-width="1.55">
<line x1="527.0" y1="351.30" x2="559.0" y2="347.61"/>
<line x1="527.0" y1="356.36" x2="559.0" y2="352.54"/>
<line x1="527.0" y1="361.42" x2="559.0" y2="357.46"/>
<line x1="527.0" y1="366.48" x2="559.0" y2="362.39"/>
<line x1="527.0" y1="371.54" x2="559.0" y2="367.32"/>
<line x1="527.0" y1="376.60" x2="559.0" y2="372.24"/>
<line x1="527.0" y1="381.66" x2="559.0" y2="377.17"/>
<line x1="527.0" y1="386.72" x2="559.0" y2="382.09"/>
<line x1="527.0" y1="391.78" x2="559.0" y2="387.02"/>
<line x1="527.0" y1="396.84" x2="559.0" y2="391.94"/>
<line x1="527.0" y1="401.90" x2="559.0" y2="396.87"/>
<line x1="527.0" y1="406.96" x2="559.0" y2="401.80"/>
<line x1="527.0" y1="412.02" x2="559.0" y2="406.72"/>
<line x1="527.0" y1="417.08" x2="559.0" y2="411.65"/>
<line x1="527.0" y1="422.14" x2="559.0" y2="416.57"/>
<line x1="527.0" y1="427.20" x2="559.0" y2="421.50"/>
<line x1="527.0" y1="432.26" x2="559.0" y2="426.42"/>
<line x1="527.0" y1="437.32" x2="559.0" y2="431.35"/>
<line x1="527.0" y1="442.38" x2="559.0" y2="436.28"/>
<line x1="527.0" y1="447.44" x2="559.0" y2="441.20"/>
<line x1="527.0" y1="452.50" x2="559.0" y2="446.13"/>
<line x1="527.0" y1="457.56" x2="559.0" y2="451.05"/>
<line x1="527.0" y1="462.62" x2="559.0" y2="455.98"/>
<line x1="527.0" y1="467.68" x2="559.0" y2="460.90"/>
<line x1="527.0" y1="472.74" x2="559.0" y2="465.83"/>
<line x1="527.0" y1="477.80" x2="559.0" y2="470.76"/>
<line x1="527.0" y1="482.86" x2="559.0" y2="475.68"/>
<line x1="527.0" y1="487.92" x2="559.0" y2="480.61"/>
<line x1="527.0" y1="492.98" x2="559.0" y2="485.53"/>
<line x1="527.0" y1="498.04" x2="559.0" y2="490.46"/>
<line x1="527.0" y1="503.10" x2="559.0" y2="495.38"/>
<line x1="527.0" y1="508.16" x2="559.0" y2="500.31"/>
<line x1="527.0" y1="513.22" x2="559.0" y2="505.24"/>
<line x1="527.0" y1="518.28" x2="559.0" y2="510.16"/>
<line x1="527.0" y1="523.34" x2="559.0" y2="515.09"/>
<line x1="527.0" y1="528.40" x2="559.0" y2="520.01"/>
<line x1="527.0" y1="533.46" x2="559.0" y2="524.94"/>
<line x1="527.0" y1="538.52" x2="559.0" y2="529.86"/>
<line x1="527.0" y1="543.58" x2="559.0" y2="534.79"/>
<line x1="527.0" y1="548.64" x2="559.0" y2="539.72"/>
<line x1="527.0" y1="553.70" x2="559.0" y2="544.64"/>
<line x1="527.0" y1="558.76" x2="559.0" y2="549.57"/>
<line x1="527.0" y1="563.82" x2="559.0" y2="554.49"/>
<line x1="527.0" y1="568.88" x2="559.0" y2="559.42"/>
<line x1="527.0" y1="573.94" x2="559.0" y2="564.34"/>
</g>
<polygon points="527.6,346.3 559.0,342.7 557.6,546.0 527.0,554.6" fill="none" stroke="#1a1a1a" stroke-width="1.6" stroke-linejoin="round" />
<clipPath id="sr"><polygon points="639,342.8 669,349.4 667.6,556 637.8,547.5"/></clipPath>
<polygon points="639.0,342.8 669.0,349.4 667.6,556.0 637.8,547.5" fill="#eff2e7" stroke="#1a1a1a" stroke-width="1.2" stroke-linejoin="round" />
<g clip-path="url(#sr)" stroke="#1c1c1c" stroke-width="1.55">
<line x1="669.0" y1="354.30" x2="637.8" y2="347.99"/>
<line x1="669.0" y1="359.28" x2="637.8" y2="352.90"/>
<line x1="669.0" y1="364.26" x2="637.8" y2="357.81"/>
<line x1="669.0" y1="369.24" x2="637.8" y2="362.72"/>
<line x1="669.0" y1="374.22" x2="637.8" y2="367.63"/>
<line x1="669.0" y1="379.20" x2="637.8" y2="372.55"/>
<line x1="669.0" y1="384.18" x2="637.8" y2="377.46"/>
<line x1="669.0" y1="389.16" x2="637.8" y2="382.37"/>
<line x1="669.0" y1="394.14" x2="637.8" y2="387.28"/>
<line x1="669.0" y1="399.12" x2="637.8" y2="392.19"/>
<line x1="669.0" y1="404.10" x2="637.8" y2="397.11"/>
<line x1="669.0" y1="409.08" x2="637.8" y2="402.02"/>
<line x1="669.0" y1="414.06" x2="637.8" y2="406.93"/>
<line x1="669.0" y1="419.04" x2="637.8" y2="411.84"/>
<line x1="669.0" y1="424.02" x2="637.8" y2="416.75"/>
<line x1="669.0" y1="429.00" x2="637.8" y2="421.66"/>
<line x1="669.0" y1="433.98" x2="637.8" y2="426.58"/>
<line x1="669.0" y1="438.96" x2="637.8" y2="431.49"/>
<line x1="669.0" y1="443.94" x2="637.8" y2="436.40"/>
<line x1="669.0" y1="448.92" x2="637.8" y2="441.31"/>
<line x1="669.0" y1="453.90" x2="637.8" y2="446.22"/>
<line x1="669.0" y1="458.88" x2="637.8" y2="451.13"/>
<line x1="669.0" y1="463.86" x2="637.8" y2="456.05"/>
<line x1="669.0" y1="468.84" x2="637.8" y2="460.96"/>
<line x1="669.0" y1="473.82" x2="637.8" y2="465.87"/>
<line x1="669.0" y1="478.80" x2="637.8" y2="470.78"/>
<line x1="669.0" y1="483.78" x2="637.8" y2="475.69"/>
<line x1="669.0" y1="488.76" x2="637.8" y2="480.61"/>
<line x1="669.0" y1="493.74" x2="637.8" y2="485.52"/>
<line x1="669.0" y1="498.72" x2="637.8" y2="490.43"/>
<line x1="669.0" y1="503.70" x2="637.8" y2="495.34"/>
<line x1="669.0" y1="508.68" x2="637.8" y2="500.25"/>
<line x1="669.0" y1="513.66" x2="637.8" y2="505.16"/>
<line x1="669.0" y1="518.64" x2="637.8" y2="510.08"/>
<line x1="669.0" y1="523.62" x2="637.8" y2="514.99"/>
<line x1="669.0" y1="528.60" x2="637.8" y2="519.90"/>
<line x1="669.0" y1="533.58" x2="637.8" y2="524.81"/>
<line x1="669.0" y1="538.56" x2="637.8" y2="529.72"/>
<line x1="669.0" y1="543.54" x2="637.8" y2="534.64"/>
<line x1="669.0" y1="548.52" x2="637.8" y2="539.55"/>
<line x1="669.0" y1="553.50" x2="637.8" y2="544.46"/>
<line x1="669.0" y1="558.48" x2="637.8" y2="549.37"/>
<line x1="669.0" y1="563.46" x2="637.8" y2="554.28"/>
<line x1="669.0" y1="568.44" x2="637.8" y2="559.19"/>
<line x1="669.0" y1="573.42" x2="637.8" y2="564.11"/>
</g>
<polygon points="639.0,342.8 669.0,349.4 667.6,556.0 637.8,547.5" fill="none" stroke="#1a1a1a" stroke-width="1.6" stroke-linejoin="round" />
<polygon points="641.0,293.0 669.8,302.0 669.0,349.0 639.0,343.0 639.5,300.0" fill="#d4c0b4" stroke="#1a1a1a" stroke-width="1.0" stroke-linejoin="round" />
<g transform="rotate(-18 544.5 316.0)">
<g fill="#2e1305"><ellipse cx="548.8" cy="294.4" rx="2.70" ry="3.30"/><ellipse cx="542.9" cy="299.6" rx="2.70" ry="3.30"/><ellipse cx="546.8" cy="299.6" rx="2.70" ry="3.30"/><ellipse cx="550.7" cy="299.6" rx="2.70" ry="3.30"/><ellipse cx="554.6" cy="299.6" rx="2.70" ry="3.30"/><ellipse cx="558.5" cy="299.6" rx="2.70" ry="3.30"/><ellipse cx="537.1" cy="304.8" rx="2.70" ry="3.30"/><ellipse cx="541.0" cy="304.8" rx="2.70" ry="3.30"/><ellipse cx="544.9" cy="304.8" rx="2.70" ry="3.30"/><ellipse cx="548.8" cy="304.8" rx="2.70" ry="3.30"/><ellipse cx="552.7" cy="304.8" rx="2.70" ry="3.30"/><ellipse cx="556.6" cy="304.8" rx="2.70" ry="3.30"/><ellipse cx="560.5" cy="304.8" rx="2.70" ry="3.30"/><ellipse cx="535.1" cy="310.0" rx="2.70" ry="3.30"/><ellipse cx="539.0" cy="310.0" rx="2.70" ry="3.30"/><ellipse cx="542.9" cy="310.0" rx="2.70" ry="3.30"/><ellipse cx="546.8" cy="310.0" rx="2.70" ry="3.30"/><ellipse cx="550.7" cy="310.0" rx="2.70" ry="3.30"/><ellipse cx="554.6" cy="310.0" rx="2.70" ry="3.30"/><ellipse cx="558.5" cy="310.0" rx="2.70" ry="3.30"/><ellipse cx="533.2" cy="315.2" rx="2.70" ry="3.30"/><ellipse cx="537.1" cy="315.2" rx="2.70" ry="3.30"/><ellipse cx="541.0" cy="315.2" rx="2.70" ry="3.30"/><ellipse cx="544.9" cy="315.2" rx="2.70" ry="3.30"/><ellipse cx="548.8" cy="315.2" rx="2.70" ry="3.30"/><ellipse cx="552.7" cy="315.2" rx="2.70" ry="3.30"/><ellipse cx="556.6" cy="315.2" rx="2.70" ry="3.30"/><ellipse cx="531.2" cy="320.4" rx="2.70" ry="3.30"/><ellipse cx="535.1" cy="320.4" rx="2.70" ry="3.30"/><ellipse cx="539.0" cy="320.4" rx="2.70" ry="3.30"/><ellipse cx="542.9" cy="320.4" rx="2.70" ry="3.30"/><ellipse cx="546.8" cy="320.4" rx="2.70" ry="3.30"/><ellipse cx="550.7" cy="320.4" rx="2.70" ry="3.30"/><ellipse cx="554.6" cy="320.4" rx="2.70" ry="3.30"/><ellipse cx="533.2" cy="325.6" rx="2.70" ry="3.30"/><ellipse cx="537.1" cy="325.6" rx="2.70" ry="3.30"/><ellipse cx="541.0" cy="325.6" rx="2.70" ry="3.30"/><ellipse cx="544.9" cy="325.6" rx="2.70" ry="3.30"/><ellipse cx="548.8" cy="325.6" rx="2.70" ry="3.30"/><ellipse cx="552.7" cy="325.6" rx="2.70" ry="3.30"/><ellipse cx="535.1" cy="330.8" rx="2.70" ry="3.30"/><ellipse cx="539.0" cy="330.8" rx="2.70" ry="3.30"/><ellipse cx="542.9" cy="330.8" rx="2.70" ry="3.30"/><ellipse cx="546.8" cy="330.8" rx="2.70" ry="3.30"/><ellipse cx="550.7" cy="330.8" rx="2.70" ry="3.30"/><ellipse cx="541.0" cy="336.0" rx="2.70" ry="3.30"/><ellipse cx="544.9" cy="336.0" rx="2.70" ry="3.30"/><ellipse cx="548.8" cy="336.0" rx="2.70" ry="3.30"/></g>
<g fill="#b9661f"><ellipse cx="548.8" cy="294.4" rx="1.42" ry="2.02"/><ellipse cx="542.9" cy="299.6" rx="1.42" ry="2.02"/><ellipse cx="546.8" cy="299.6" rx="1.42" ry="2.02"/><ellipse cx="550.7" cy="299.6" rx="1.42" ry="2.02"/><ellipse cx="554.6" cy="299.6" rx="1.42" ry="2.02"/><ellipse cx="558.5" cy="299.6" rx="1.42" ry="2.02"/><ellipse cx="537.1" cy="304.8" rx="1.42" ry="2.02"/><ellipse cx="541.0" cy="304.8" rx="1.42" ry="2.02"/><ellipse cx="544.9" cy="304.8" rx="1.42" ry="2.02"/><ellipse cx="548.8" cy="304.8" rx="1.42" ry="2.02"/><ellipse cx="552.7" cy="304.8" rx="1.42" ry="2.02"/><ellipse cx="556.6" cy="304.8" rx="1.42" ry="2.02"/><ellipse cx="560.5" cy="304.8" rx="1.42" ry="2.02"/><ellipse cx="535.1" cy="310.0" rx="1.42" ry="2.02"/><ellipse cx="539.0" cy="310.0" rx="1.42" ry="2.02"/><ellipse cx="542.9" cy="310.0" rx="1.42" ry="2.02"/><ellipse cx="546.8" cy="310.0" rx="1.42" ry="2.02"/><ellipse cx="550.7" cy="310.0" rx="1.42" ry="2.02"/><ellipse cx="554.6" cy="310.0" rx="1.42" ry="2.02"/><ellipse cx="558.5" cy="310.0" rx="1.42" ry="2.02"/><ellipse cx="533.2" cy="315.2" rx="1.42" ry="2.02"/><ellipse cx="537.1" cy="315.2" rx="1.42" ry="2.02"/><ellipse cx="541.0" cy="315.2" rx="1.42" ry="2.02"/><ellipse cx="544.9" cy="315.2" rx="1.42" ry="2.02"/><ellipse cx="548.8" cy="315.2" rx="1.42" ry="2.02"/><ellipse cx="552.7" cy="315.2" rx="1.42" ry="2.02"/><ellipse cx="556.6" cy="315.2" rx="1.42" ry="2.02"/><ellipse cx="531.2" cy="320.4" rx="1.42" ry="2.02"/><ellipse cx="535.1" cy="320.4" rx="1.42" ry="2.02"/><ellipse cx="539.0" cy="320.4" rx="1.42" ry="2.02"/><ellipse cx="542.9" cy="320.4" rx="1.42" ry="2.02"/><ellipse cx="546.8" cy="320.4" rx="1.42" ry="2.02"/><ellipse cx="550.7" cy="320.4" rx="1.42" ry="2.02"/><ellipse cx="554.6" cy="320.4" rx="1.42" ry="2.02"/><ellipse cx="533.2" cy="325.6" rx="1.42" ry="2.02"/><ellipse cx="537.1" cy="325.6" rx="1.42" ry="2.02"/><ellipse cx="541.0" cy="325.6" rx="1.42" ry="2.02"/><ellipse cx="544.9" cy="325.6" rx="1.42" ry="2.02"/><ellipse cx="548.8" cy="325.6" rx="1.42" ry="2.02"/><ellipse cx="552.7" cy="325.6" rx="1.42" ry="2.02"/><ellipse cx="535.1" cy="330.8" rx="1.42" ry="2.02"/><ellipse cx="539.0" cy="330.8" rx="1.42" ry="2.02"/><ellipse cx="542.9" cy="330.8" rx="1.42" ry="2.02"/><ellipse cx="546.8" cy="330.8" rx="1.42" ry="2.02"/><ellipse cx="550.7" cy="330.8" rx="1.42" ry="2.02"/><ellipse cx="541.0" cy="336.0" rx="1.42" ry="2.02"/><ellipse cx="544.9" cy="336.0" rx="1.42" ry="2.02"/><ellipse cx="548.8" cy="336.0" rx="1.42" ry="2.02"/></g>
<g fill="#e6a048"><ellipse cx="548.5" cy="294.0" rx="0.76" ry="1.20"/><ellipse cx="542.6" cy="299.2" rx="0.76" ry="1.20"/><ellipse cx="546.5" cy="299.2" rx="0.76" ry="1.20"/><ellipse cx="550.4" cy="299.2" rx="0.76" ry="1.20"/><ellipse cx="554.3" cy="299.2" rx="0.76" ry="1.20"/><ellipse cx="558.2" cy="299.2" rx="0.76" ry="1.20"/><ellipse cx="536.8" cy="304.4" rx="0.76" ry="1.20"/><ellipse cx="540.7" cy="304.4" rx="0.76" ry="1.20"/><ellipse cx="544.6" cy="304.4" rx="0.76" ry="1.20"/><ellipse cx="548.5" cy="304.4" rx="0.76" ry="1.20"/><ellipse cx="552.4" cy="304.4" rx="0.76" ry="1.20"/><ellipse cx="556.3" cy="304.4" rx="0.76" ry="1.20"/><ellipse cx="560.2" cy="304.4" rx="0.76" ry="1.20"/><ellipse cx="534.9" cy="309.6" rx="0.76" ry="1.20"/><ellipse cx="538.8" cy="309.6" rx="0.76" ry="1.20"/><ellipse cx="542.6" cy="309.6" rx="0.76" ry="1.20"/><ellipse cx="546.5" cy="309.6" rx="0.76" ry="1.20"/><ellipse cx="550.4" cy="309.6" rx="0.76" ry="1.20"/><ellipse cx="554.3" cy="309.6" rx="0.76" ry="1.20"/><ellipse cx="558.2" cy="309.6" rx="0.76" ry="1.20"/><ellipse cx="532.9" cy="314.8" rx="0.76" ry="1.20"/><ellipse cx="536.8" cy="314.8" rx="0.76" ry="1.20"/><ellipse cx="540.7" cy="314.8" rx="0.76" ry="1.20"/><ellipse cx="544.6" cy="314.8" rx="0.76" ry="1.20"/><ellipse cx="548.5" cy="314.8" rx="0.76" ry="1.20"/><ellipse cx="552.4" cy="314.8" rx="0.76" ry="1.20"/><ellipse cx="556.3" cy="314.8" rx="0.76" ry="1.20"/><ellipse cx="531.0" cy="320.0" rx="0.76" ry="1.20"/><ellipse cx="534.9" cy="320.0" rx="0.76" ry="1.20"/><ellipse cx="538.8" cy="320.0" rx="0.76" ry="1.20"/><ellipse cx="542.6" cy="320.0" rx="0.76" ry="1.20"/><ellipse cx="546.5" cy="320.0" rx="0.76" ry="1.20"/><ellipse cx="550.4" cy="320.0" rx="0.76" ry="1.20"/><ellipse cx="554.3" cy="320.0" rx="0.76" ry="1.20"/><ellipse cx="532.9" cy="325.2" rx="0.76" ry="1.20"/><ellipse cx="536.8" cy="325.2" rx="0.76" ry="1.20"/><ellipse cx="540.7" cy="325.2" rx="0.76" ry="1.20"/><ellipse cx="544.6" cy="325.2" rx="0.76" ry="1.20"/><ellipse cx="548.5" cy="325.2" rx="0.76" ry="1.20"/><ellipse cx="552.4" cy="325.2" rx="0.76" ry="1.20"/><ellipse cx="534.9" cy="330.4" rx="0.76" ry="1.20"/><ellipse cx="538.8" cy="330.4" rx="0.76" ry="1.20"/><ellipse cx="542.6" cy="330.4" rx="0.76" ry="1.20"/><ellipse cx="546.5" cy="330.4" rx="0.76" ry="1.20"/><ellipse cx="550.4" cy="330.4" rx="0.76" ry="1.20"/><ellipse cx="540.7" cy="335.6" rx="0.76" ry="1.20"/><ellipse cx="544.6" cy="335.6" rx="0.76" ry="1.20"/><ellipse cx="548.5" cy="335.6" rx="0.76" ry="1.20"/></g>
</g>
<g transform="rotate(18 654.5 320.2)">
<g fill="#2e1a05"><ellipse cx="642.8" cy="306.1" rx="2.70" ry="3.30"/><ellipse cx="646.6" cy="306.1" rx="2.70" ry="3.30"/><ellipse cx="650.5" cy="306.1" rx="2.70" ry="3.30"/><ellipse cx="640.8" cy="311.3" rx="2.70" ry="3.30"/><ellipse cx="644.7" cy="311.3" rx="2.70" ry="3.30"/><ellipse cx="648.6" cy="311.3" rx="2.70" ry="3.30"/><ellipse cx="652.5" cy="311.3" rx="2.70" ry="3.30"/><ellipse cx="656.4" cy="311.3" rx="2.70" ry="3.30"/><ellipse cx="660.3" cy="311.3" rx="2.70" ry="3.30"/><ellipse cx="642.8" cy="316.5" rx="2.70" ry="3.30"/><ellipse cx="646.6" cy="316.5" rx="2.70" ry="3.30"/><ellipse cx="650.5" cy="316.5" rx="2.70" ry="3.30"/><ellipse cx="654.4" cy="316.5" rx="2.70" ry="3.30"/><ellipse cx="658.3" cy="316.5" rx="2.70" ry="3.30"/><ellipse cx="662.2" cy="316.5" rx="2.70" ry="3.30"/><ellipse cx="644.7" cy="321.7" rx="2.70" ry="3.30"/><ellipse cx="648.6" cy="321.7" rx="2.70" ry="3.30"/><ellipse cx="652.5" cy="321.7" rx="2.70" ry="3.30"/><ellipse cx="656.4" cy="321.7" rx="2.70" ry="3.30"/><ellipse cx="660.3" cy="321.7" rx="2.70" ry="3.30"/><ellipse cx="646.6" cy="326.9" rx="2.70" ry="3.30"/><ellipse cx="650.5" cy="326.9" rx="2.70" ry="3.30"/><ellipse cx="654.4" cy="326.9" rx="2.70" ry="3.30"/><ellipse cx="658.3" cy="326.9" rx="2.70" ry="3.30"/><ellipse cx="662.2" cy="326.9" rx="2.70" ry="3.30"/><ellipse cx="648.6" cy="332.1" rx="2.70" ry="3.30"/><ellipse cx="652.5" cy="332.1" rx="2.70" ry="3.30"/><ellipse cx="656.4" cy="332.1" rx="2.70" ry="3.30"/><ellipse cx="660.3" cy="332.1" rx="2.70" ry="3.30"/><ellipse cx="664.2" cy="332.1" rx="2.70" ry="3.30"/><ellipse cx="650.5" cy="337.3" rx="2.70" ry="3.30"/><ellipse cx="654.4" cy="337.3" rx="2.70" ry="3.30"/><ellipse cx="658.3" cy="337.3" rx="2.70" ry="3.30"/><ellipse cx="662.2" cy="337.3" rx="2.70" ry="3.30"/></g>
<g fill="#c48d30"><ellipse cx="642.8" cy="306.1" rx="1.42" ry="2.02"/><ellipse cx="646.6" cy="306.1" rx="1.42" ry="2.02"/><ellipse cx="650.5" cy="306.1" rx="1.42" ry="2.02"/><ellipse cx="640.8" cy="311.3" rx="1.42" ry="2.02"/><ellipse cx="644.7" cy="311.3" rx="1.42" ry="2.02"/><ellipse cx="648.6" cy="311.3" rx="1.42" ry="2.02"/><ellipse cx="652.5" cy="311.3" rx="1.42" ry="2.02"/><ellipse cx="656.4" cy="311.3" rx="1.42" ry="2.02"/><ellipse cx="660.3" cy="311.3" rx="1.42" ry="2.02"/><ellipse cx="642.8" cy="316.5" rx="1.42" ry="2.02"/><ellipse cx="646.6" cy="316.5" rx="1.42" ry="2.02"/><ellipse cx="650.5" cy="316.5" rx="1.42" ry="2.02"/><ellipse cx="654.4" cy="316.5" rx="1.42" ry="2.02"/><ellipse cx="658.3" cy="316.5" rx="1.42" ry="2.02"/><ellipse cx="662.2" cy="316.5" rx="1.42" ry="2.02"/><ellipse cx="644.7" cy="321.7" rx="1.42" ry="2.02"/><ellipse cx="648.6" cy="321.7" rx="1.42" ry="2.02"/><ellipse cx="652.5" cy="321.7" rx="1.42" ry="2.02"/><ellipse cx="656.4" cy="321.7" rx="1.42" ry="2.02"/><ellipse cx="660.3" cy="321.7" rx="1.42" ry="2.02"/><ellipse cx="646.6" cy="326.9" rx="1.42" ry="2.02"/><ellipse cx="650.5" cy="326.9" rx="1.42" ry="2.02"/><ellipse cx="654.4" cy="326.9" rx="1.42" ry="2.02"/><ellipse cx="658.3" cy="326.9" rx="1.42" ry="2.02"/><ellipse cx="662.2" cy="326.9" rx="1.42" ry="2.02"/><ellipse cx="648.6" cy="332.1" rx="1.42" ry="2.02"/><ellipse cx="652.5" cy="332.1" rx="1.42" ry="2.02"/><ellipse cx="656.4" cy="332.1" rx="1.42" ry="2.02"/><ellipse cx="660.3" cy="332.1" rx="1.42" ry="2.02"/><ellipse cx="664.2" cy="332.1" rx="1.42" ry="2.02"/><ellipse cx="650.5" cy="337.3" rx="1.42" ry="2.02"/><ellipse cx="654.4" cy="337.3" rx="1.42" ry="2.02"/><ellipse cx="658.3" cy="337.3" rx="1.42" ry="2.02"/><ellipse cx="662.2" cy="337.3" rx="1.42" ry="2.02"/></g>
<g fill="#ecc25a"><ellipse cx="642.5" cy="305.7" rx="0.76" ry="1.20"/><ellipse cx="646.4" cy="305.7" rx="0.76" ry="1.20"/><ellipse cx="650.2" cy="305.7" rx="0.76" ry="1.20"/><ellipse cx="640.5" cy="310.9" rx="0.76" ry="1.20"/><ellipse cx="644.4" cy="310.9" rx="0.76" ry="1.20"/><ellipse cx="648.3" cy="310.9" rx="0.76" ry="1.20"/><ellipse cx="652.2" cy="310.9" rx="0.76" ry="1.20"/><ellipse cx="656.1" cy="310.9" rx="0.76" ry="1.20"/><ellipse cx="660.0" cy="310.9" rx="0.76" ry="1.20"/><ellipse cx="642.5" cy="316.1" rx="0.76" ry="1.20"/><ellipse cx="646.4" cy="316.1" rx="0.76" ry="1.20"/><ellipse cx="650.2" cy="316.1" rx="0.76" ry="1.20"/><ellipse cx="654.1" cy="316.1" rx="0.76" ry="1.20"/><ellipse cx="658.0" cy="316.1" rx="0.76" ry="1.20"/><ellipse cx="661.9" cy="316.1" rx="0.76" ry="1.20"/><ellipse cx="644.4" cy="321.3" rx="0.76" ry="1.20"/><ellipse cx="648.3" cy="321.3" rx="0.76" ry="1.20"/><ellipse cx="652.2" cy="321.3" rx="0.76" ry="1.20"/><ellipse cx="656.1" cy="321.3" rx="0.76" ry="1.20"/><ellipse cx="660.0" cy="321.3" rx="0.76" ry="1.20"/><ellipse cx="646.4" cy="326.5" rx="0.76" ry="1.20"/><ellipse cx="650.2" cy="326.5" rx="0.76" ry="1.20"/><ellipse cx="654.1" cy="326.5" rx="0.76" ry="1.20"/><ellipse cx="658.0" cy="326.5" rx="0.76" ry="1.20"/><ellipse cx="661.9" cy="326.5" rx="0.76" ry="1.20"/><ellipse cx="648.3" cy="331.7" rx="0.76" ry="1.20"/><ellipse cx="652.2" cy="331.7" rx="0.76" ry="1.20"/><ellipse cx="656.1" cy="331.7" rx="0.76" ry="1.20"/><ellipse cx="660.0" cy="331.7" rx="0.76" ry="1.20"/><ellipse cx="663.9" cy="331.7" rx="0.76" ry="1.20"/><ellipse cx="650.2" cy="336.9" rx="0.76" ry="1.20"/><ellipse cx="654.1" cy="336.9" rx="0.76" ry="1.20"/><ellipse cx="658.0" cy="336.9" rx="0.76" ry="1.20"/><ellipse cx="661.9" cy="336.9" rx="0.76" ry="1.20"/></g>
</g>
<line x1="541.0" y1="335.0" x2="541.0" y2="345.0" stroke="#2e2a24" stroke-width="2.4" />
<line x1="541.0" y1="336.0" x2="541.0" y2="345.0" stroke="#d9d2c0" stroke-width="1.0" />
<line x1="545.0" y1="335.0" x2="545.0" y2="345.0" stroke="#2e2a24" stroke-width="2.4" />
<line x1="545.0" y1="336.0" x2="545.0" y2="345.0" stroke="#d9d2c0" stroke-width="1.0" />
<line x1="549.0" y1="335.0" x2="549.0" y2="345.0" stroke="#2e2a24" stroke-width="2.4" />
<line x1="549.0" y1="336.0" x2="549.0" y2="345.0" stroke="#d9d2c0" stroke-width="1.0" />
<line x1="553.0" y1="335.0" x2="553.0" y2="345.0" stroke="#2e2a24" stroke-width="2.4" />
<line x1="553.0" y1="336.0" x2="553.0" y2="345.0" stroke="#d9d2c0" stroke-width="1.0" />
<line x1="556.5" y1="335.0" x2="556.5" y2="345.0" stroke="#2e2a24" stroke-width="2.4" />
<line x1="556.5" y1="336.0" x2="556.5" y2="345.0" stroke="#d9d2c0" stroke-width="1.0" />
<line x1="645.0" y1="337.0" x2="644.4" y2="347.5" stroke="#2e2a24" stroke-width="2.4" />
<line x1="645.0" y1="338.0" x2="644.4" y2="347.5" stroke="#d9d2c0" stroke-width="1.0" />
<line x1="649.5" y1="337.0" x2="648.9" y2="347.5" stroke="#2e2a24" stroke-width="2.4" />
<line x1="649.5" y1="338.0" x2="648.9" y2="347.5" stroke="#d9d2c0" stroke-width="1.0" />
<line x1="654.0" y1="337.0" x2="653.4" y2="347.5" stroke="#2e2a24" stroke-width="2.4" />
<line x1="654.0" y1="338.0" x2="653.4" y2="347.5" stroke="#d9d2c0" stroke-width="1.0" />
<line x1="658.0" y1="337.0" x2="657.4" y2="347.5" stroke="#2e2a24" stroke-width="2.4" />
<line x1="658.0" y1="338.0" x2="657.4" y2="347.5" stroke="#d9d2c0" stroke-width="1.0" />
<line x1="662.0" y1="337.0" x2="661.4" y2="347.5" stroke="#2e2a24" stroke-width="2.4" />
<line x1="662.0" y1="338.0" x2="661.4" y2="347.5" stroke="#d9d2c0" stroke-width="1.0" />
<polygon points="527.3,554.5 557.5,546.0 557.5,570.0 545.0,582.0 545.0,606.0 556.0,613.0 531.0,622.5 527.5,622.0" fill="#cdbcae" stroke="#1a1a1a" stroke-width="1.0" stroke-linejoin="round" />
<polygon points="637.8,547.5 667.5,556.0 668.0,628.0 637.0,614.0" fill="#cdbcae" stroke="#1a1a1a" stroke-width="1.0" stroke-linejoin="round" />
<polygon points="545.0,582.0 557.5,570.0 637.8,570.0 637.5,614.0 640.0,640.0 556.0,640.0 556.0,613.0 545.0,606.0" fill="#e4e1d6" stroke="none" stroke-width="0" stroke-linejoin="round" />
<g transform="rotate(20 542.6 583.7)">
<g fill="#2e1a05"><ellipse cx="538.8" cy="550.0" rx="2.70" ry="3.30"/><ellipse cx="542.7" cy="550.0" rx="2.70" ry="3.30"/><ellipse cx="532.9" cy="555.2" rx="2.70" ry="3.30"/><ellipse cx="536.8" cy="555.2" rx="2.70" ry="3.30"/><ellipse cx="540.7" cy="555.2" rx="2.70" ry="3.30"/><ellipse cx="544.6" cy="555.2" rx="2.70" ry="3.30"/><ellipse cx="531.0" cy="560.4" rx="2.70" ry="3.30"/><ellipse cx="534.9" cy="560.4" rx="2.70" ry="3.30"/><ellipse cx="538.8" cy="560.4" rx="2.70" ry="3.30"/><ellipse cx="542.7" cy="560.4" rx="2.70" ry="3.30"/><ellipse cx="546.6" cy="560.4" rx="2.70" ry="3.30"/><ellipse cx="529.0" cy="565.6" rx="2.70" ry="3.30"/><ellipse cx="532.9" cy="565.6" rx="2.70" ry="3.30"/><ellipse cx="536.8" cy="565.6" rx="2.70" ry="3.30"/><ellipse cx="540.7" cy="565.6" rx="2.70" ry="3.30"/><ellipse cx="544.6" cy="565.6" rx="2.70" ry="3.30"/><ellipse cx="548.5" cy="565.6" rx="2.70" ry="3.30"/><ellipse cx="531.0" cy="570.8" rx="2.70" ry="3.30"/><ellipse cx="534.9" cy="570.8" rx="2.70" ry="3.30"/><ellipse cx="538.8" cy="570.8" rx="2.70" ry="3.30"/><ellipse cx="542.7" cy="570.8" rx="2.70" ry="3.30"/><ellipse cx="529.0" cy="576.0" rx="2.70" ry="3.30"/><ellipse cx="532.9" cy="576.0" rx="2.70" ry="3.30"/><ellipse cx="536.8" cy="576.0" rx="2.70" ry="3.30"/><ellipse cx="540.7" cy="576.0" rx="2.70" ry="3.30"/><ellipse cx="531.0" cy="581.2" rx="2.70" ry="3.30"/><ellipse cx="534.9" cy="581.2" rx="2.70" ry="3.30"/><ellipse cx="538.8" cy="581.2" rx="2.70" ry="3.30"/><ellipse cx="532.9" cy="586.4" rx="2.70" ry="3.30"/><ellipse cx="536.8" cy="586.4" rx="2.70" ry="3.30"/><ellipse cx="540.7" cy="586.4" rx="2.70" ry="3.30"/><ellipse cx="534.9" cy="591.6" rx="2.70" ry="3.30"/><ellipse cx="538.8" cy="591.6" rx="2.70" ry="3.30"/><ellipse cx="542.7" cy="591.6" rx="2.70" ry="3.30"/><ellipse cx="536.8" cy="596.8" rx="2.70" ry="3.30"/><ellipse cx="540.7" cy="596.8" rx="2.70" ry="3.30"/><ellipse cx="544.6" cy="596.8" rx="2.70" ry="3.30"/><ellipse cx="538.8" cy="602.0" rx="2.70" ry="3.30"/><ellipse cx="542.7" cy="602.0" rx="2.70" ry="3.30"/><ellipse cx="546.6" cy="602.0" rx="2.70" ry="3.30"/><ellipse cx="550.5" cy="602.0" rx="2.70" ry="3.30"/><ellipse cx="540.7" cy="607.2" rx="2.70" ry="3.30"/><ellipse cx="544.6" cy="607.2" rx="2.70" ry="3.30"/><ellipse cx="548.5" cy="607.2" rx="2.70" ry="3.30"/><ellipse cx="552.4" cy="607.2" rx="2.70" ry="3.30"/><ellipse cx="556.3" cy="607.2" rx="2.70" ry="3.30"/><ellipse cx="546.6" cy="612.4" rx="2.70" ry="3.30"/><ellipse cx="550.5" cy="612.4" rx="2.70" ry="3.30"/></g>
<g fill="#c08c36"><ellipse cx="538.8" cy="550.0" rx="1.42" ry="2.02"/><ellipse cx="542.7" cy="550.0" rx="1.42" ry="2.02"/><ellipse cx="532.9" cy="555.2" rx="1.42" ry="2.02"/><ellipse cx="536.8" cy="555.2" rx="1.42" ry="2.02"/><ellipse cx="540.7" cy="555.2" rx="1.42" ry="2.02"/><ellipse cx="544.6" cy="555.2" rx="1.42" ry="2.02"/><ellipse cx="531.0" cy="560.4" rx="1.42" ry="2.02"/><ellipse cx="534.9" cy="560.4" rx="1.42" ry="2.02"/><ellipse cx="538.8" cy="560.4" rx="1.42" ry="2.02"/><ellipse cx="542.7" cy="560.4" rx="1.42" ry="2.02"/><ellipse cx="546.6" cy="560.4" rx="1.42" ry="2.02"/><ellipse cx="529.0" cy="565.6" rx="1.42" ry="2.02"/><ellipse cx="532.9" cy="565.6" rx="1.42" ry="2.02"/><ellipse cx="536.8" cy="565.6" rx="1.42" ry="2.02"/><ellipse cx="540.7" cy="565.6" rx="1.42" ry="2.02"/><ellipse cx="544.6" cy="565.6" rx="1.42" ry="2.02"/><ellipse cx="548.5" cy="565.6" rx="1.42" ry="2.02"/><ellipse cx="531.0" cy="570.8" rx="1.42" ry="2.02"/><ellipse cx="534.9" cy="570.8" rx="1.42" ry="2.02"/><ellipse cx="538.8" cy="570.8" rx="1.42" ry="2.02"/><ellipse cx="542.7" cy="570.8" rx="1.42" ry="2.02"/><ellipse cx="529.0" cy="576.0" rx="1.42" ry="2.02"/><ellipse cx="532.9" cy="576.0" rx="1.42" ry="2.02"/><ellipse cx="536.8" cy="576.0" rx="1.42" ry="2.02"/><ellipse cx="540.7" cy="576.0" rx="1.42" ry="2.02"/><ellipse cx="531.0" cy="581.2" rx="1.42" ry="2.02"/><ellipse cx="534.9" cy="581.2" rx="1.42" ry="2.02"/><ellipse cx="538.8" cy="581.2" rx="1.42" ry="2.02"/><ellipse cx="532.9" cy="586.4" rx="1.42" ry="2.02"/><ellipse cx="536.8" cy="586.4" rx="1.42" ry="2.02"/><ellipse cx="540.7" cy="586.4" rx="1.42" ry="2.02"/><ellipse cx="534.9" cy="591.6" rx="1.42" ry="2.02"/><ellipse cx="538.8" cy="591.6" rx="1.42" ry="2.02"/><ellipse cx="542.7" cy="591.6" rx="1.42" ry="2.02"/><ellipse cx="536.8" cy="596.8" rx="1.42" ry="2.02"/><ellipse cx="540.7" cy="596.8" rx="1.42" ry="2.02"/><ellipse cx="544.6" cy="596.8" rx="1.42" ry="2.02"/><ellipse cx="538.8" cy="602.0" rx="1.42" ry="2.02"/><ellipse cx="542.7" cy="602.0" rx="1.42" ry="2.02"/><ellipse cx="546.6" cy="602.0" rx="1.42" ry="2.02"/><ellipse cx="550.5" cy="602.0" rx="1.42" ry="2.02"/><ellipse cx="540.7" cy="607.2" rx="1.42" ry="2.02"/><ellipse cx="544.6" cy="607.2" rx="1.42" ry="2.02"/><ellipse cx="548.5" cy="607.2" rx="1.42" ry="2.02"/><ellipse cx="552.4" cy="607.2" rx="1.42" ry="2.02"/><ellipse cx="556.3" cy="607.2" rx="1.42" ry="2.02"/><ellipse cx="546.6" cy="612.4" rx="1.42" ry="2.02"/><ellipse cx="550.5" cy="612.4" rx="1.42" ry="2.02"/></g>
<g fill="#e8c064"><ellipse cx="538.5" cy="549.7" rx="0.76" ry="1.20"/><ellipse cx="542.4" cy="549.7" rx="0.76" ry="1.20"/><ellipse cx="532.6" cy="554.9" rx="0.76" ry="1.20"/><ellipse cx="536.5" cy="554.9" rx="0.76" ry="1.20"/><ellipse cx="540.4" cy="554.9" rx="0.76" ry="1.20"/><ellipse cx="544.3" cy="554.9" rx="0.76" ry="1.20"/><ellipse cx="530.7" cy="560.1" rx="0.76" ry="1.20"/><ellipse cx="534.6" cy="560.1" rx="0.76" ry="1.20"/><ellipse cx="538.5" cy="560.1" rx="0.76" ry="1.20"/><ellipse cx="542.4" cy="560.1" rx="0.76" ry="1.20"/><ellipse cx="546.3" cy="560.1" rx="0.76" ry="1.20"/><ellipse cx="528.8" cy="565.3" rx="0.76" ry="1.20"/><ellipse cx="532.6" cy="565.3" rx="0.76" ry="1.20"/><ellipse cx="536.5" cy="565.3" rx="0.76" ry="1.20"/><ellipse cx="540.4" cy="565.3" rx="0.76" ry="1.20"/><ellipse cx="544.3" cy="565.3" rx="0.76" ry="1.20"/><ellipse cx="548.2" cy="565.3" rx="0.76" ry="1.20"/><ellipse cx="530.7" cy="570.5" rx="0.76" ry="1.20"/><ellipse cx="534.6" cy="570.5" rx="0.76" ry="1.20"/><ellipse cx="538.5" cy="570.5" rx="0.76" ry="1.20"/><ellipse cx="542.4" cy="570.5" rx="0.76" ry="1.20"/><ellipse cx="528.8" cy="575.7" rx="0.76" ry="1.20"/><ellipse cx="532.6" cy="575.7" rx="0.76" ry="1.20"/><ellipse cx="536.5" cy="575.7" rx="0.76" ry="1.20"/><ellipse cx="540.4" cy="575.7" rx="0.76" ry="1.20"/><ellipse cx="530.7" cy="580.9" rx="0.76" ry="1.20"/><ellipse cx="534.6" cy="580.9" rx="0.76" ry="1.20"/><ellipse cx="538.5" cy="580.9" rx="0.76" ry="1.20"/><ellipse cx="532.6" cy="586.1" rx="0.76" ry="1.20"/><ellipse cx="536.5" cy="586.1" rx="0.76" ry="1.20"/><ellipse cx="540.4" cy="586.1" rx="0.76" ry="1.20"/><ellipse cx="534.6" cy="591.3" rx="0.76" ry="1.20"/><ellipse cx="538.5" cy="591.3" rx="0.76" ry="1.20"/><ellipse cx="542.4" cy="591.3" rx="0.76" ry="1.20"/><ellipse cx="536.5" cy="596.5" rx="0.76" ry="1.20"/><ellipse cx="540.4" cy="596.5" rx="0.76" ry="1.20"/><ellipse cx="544.3" cy="596.5" rx="0.76" ry="1.20"/><ellipse cx="538.5" cy="601.7" rx="0.76" ry="1.20"/><ellipse cx="542.4" cy="601.7" rx="0.76" ry="1.20"/><ellipse cx="546.3" cy="601.7" rx="0.76" ry="1.20"/><ellipse cx="550.2" cy="601.7" rx="0.76" ry="1.20"/><ellipse cx="540.4" cy="606.9" rx="0.76" ry="1.20"/><ellipse cx="544.3" cy="606.9" rx="0.76" ry="1.20"/><ellipse cx="548.2" cy="606.9" rx="0.76" ry="1.20"/><ellipse cx="552.1" cy="606.9" rx="0.76" ry="1.20"/><ellipse cx="556.0" cy="606.9" rx="0.76" ry="1.20"/><ellipse cx="546.3" cy="612.1" rx="0.76" ry="1.20"/><ellipse cx="550.2" cy="612.1" rx="0.76" ry="1.20"/></g>
</g>
<g transform="rotate(-18 652.5 584.5)">
<g fill="#2e1305"><ellipse cx="654.4" cy="553.4" rx="2.70" ry="3.30"/><ellipse cx="652.4" cy="558.6" rx="2.70" ry="3.30"/><ellipse cx="656.3" cy="558.6" rx="2.70" ry="3.30"/><ellipse cx="660.2" cy="558.6" rx="2.70" ry="3.30"/><ellipse cx="664.1" cy="558.6" rx="2.70" ry="3.30"/><ellipse cx="650.5" cy="563.8" rx="2.70" ry="3.30"/><ellipse cx="654.4" cy="563.8" rx="2.70" ry="3.30"/><ellipse cx="658.3" cy="563.8" rx="2.70" ry="3.30"/><ellipse cx="662.2" cy="563.8" rx="2.70" ry="3.30"/><ellipse cx="666.1" cy="563.8" rx="2.70" ry="3.30"/><ellipse cx="648.5" cy="569.0" rx="2.70" ry="3.30"/><ellipse cx="652.4" cy="569.0" rx="2.70" ry="3.30"/><ellipse cx="656.3" cy="569.0" rx="2.70" ry="3.30"/><ellipse cx="660.2" cy="569.0" rx="2.70" ry="3.30"/><ellipse cx="664.1" cy="569.0" rx="2.70" ry="3.30"/><ellipse cx="668.0" cy="569.0" rx="2.70" ry="3.30"/><ellipse cx="646.6" cy="574.2" rx="2.70" ry="3.30"/><ellipse cx="650.5" cy="574.2" rx="2.70" ry="3.30"/><ellipse cx="654.4" cy="574.2" rx="2.70" ry="3.30"/><ellipse cx="658.3" cy="574.2" rx="2.70" ry="3.30"/><ellipse cx="662.2" cy="574.2" rx="2.70" ry="3.30"/><ellipse cx="666.1" cy="574.2" rx="2.70" ry="3.30"/><ellipse cx="644.6" cy="579.4" rx="2.70" ry="3.30"/><ellipse cx="648.5" cy="579.4" rx="2.70" ry="3.30"/><ellipse cx="652.4" cy="579.4" rx="2.70" ry="3.30"/><ellipse cx="656.3" cy="579.4" rx="2.70" ry="3.30"/><ellipse cx="660.2" cy="579.4" rx="2.70" ry="3.30"/><ellipse cx="664.1" cy="579.4" rx="2.70" ry="3.30"/><ellipse cx="642.7" cy="584.6" rx="2.70" ry="3.30"/><ellipse cx="646.6" cy="584.6" rx="2.70" ry="3.30"/><ellipse cx="650.5" cy="584.6" rx="2.70" ry="3.30"/><ellipse cx="654.4" cy="584.6" rx="2.70" ry="3.30"/><ellipse cx="658.3" cy="584.6" rx="2.70" ry="3.30"/><ellipse cx="662.2" cy="584.6" rx="2.70" ry="3.30"/><ellipse cx="640.8" cy="589.8" rx="2.70" ry="3.30"/><ellipse cx="644.6" cy="589.8" rx="2.70" ry="3.30"/><ellipse cx="648.5" cy="589.8" rx="2.70" ry="3.30"/><ellipse cx="652.4" cy="589.8" rx="2.70" ry="3.30"/><ellipse cx="656.3" cy="589.8" rx="2.70" ry="3.30"/><ellipse cx="660.2" cy="589.8" rx="2.70" ry="3.30"/><ellipse cx="638.8" cy="595.0" rx="2.70" ry="3.30"/><ellipse cx="642.7" cy="595.0" rx="2.70" ry="3.30"/><ellipse cx="646.6" cy="595.0" rx="2.70" ry="3.30"/><ellipse cx="650.5" cy="595.0" rx="2.70" ry="3.30"/><ellipse cx="654.4" cy="595.0" rx="2.70" ry="3.30"/><ellipse cx="658.3" cy="595.0" rx="2.70" ry="3.30"/><ellipse cx="636.9" cy="600.2" rx="2.70" ry="3.30"/><ellipse cx="640.8" cy="600.2" rx="2.70" ry="3.30"/><ellipse cx="644.6" cy="600.2" rx="2.70" ry="3.30"/><ellipse cx="648.5" cy="600.2" rx="2.70" ry="3.30"/><ellipse cx="652.4" cy="600.2" rx="2.70" ry="3.30"/><ellipse cx="656.3" cy="600.2" rx="2.70" ry="3.30"/><ellipse cx="638.8" cy="605.4" rx="2.70" ry="3.30"/><ellipse cx="642.7" cy="605.4" rx="2.70" ry="3.30"/><ellipse cx="646.6" cy="605.4" rx="2.70" ry="3.30"/><ellipse cx="650.5" cy="605.4" rx="2.70" ry="3.30"/><ellipse cx="654.4" cy="605.4" rx="2.70" ry="3.30"/><ellipse cx="640.8" cy="610.6" rx="2.70" ry="3.30"/><ellipse cx="644.6" cy="610.6" rx="2.70" ry="3.30"/><ellipse cx="648.5" cy="610.6" rx="2.70" ry="3.30"/><ellipse cx="652.4" cy="610.6" rx="2.70" ry="3.30"/></g>
<g fill="#bd7f2e"><ellipse cx="654.4" cy="553.4" rx="1.42" ry="2.02"/><ellipse cx="652.4" cy="558.6" rx="1.42" ry="2.02"/><ellipse cx="656.3" cy="558.6" rx="1.42" ry="2.02"/><ellipse cx="660.2" cy="558.6" rx="1.42" ry="2.02"/><ellipse cx="664.1" cy="558.6" rx="1.42" ry="2.02"/><ellipse cx="650.5" cy="563.8" rx="1.42" ry="2.02"/><ellipse cx="654.4" cy="563.8" rx="1.42" ry="2.02"/><ellipse cx="658.3" cy="563.8" rx="1.42" ry="2.02"/><ellipse cx="662.2" cy="563.8" rx="1.42" ry="2.02"/><ellipse cx="666.1" cy="563.8" rx="1.42" ry="2.02"/><ellipse cx="648.5" cy="569.0" rx="1.42" ry="2.02"/><ellipse cx="652.4" cy="569.0" rx="1.42" ry="2.02"/><ellipse cx="656.3" cy="569.0" rx="1.42" ry="2.02"/><ellipse cx="660.2" cy="569.0" rx="1.42" ry="2.02"/><ellipse cx="664.1" cy="569.0" rx="1.42" ry="2.02"/><ellipse cx="668.0" cy="569.0" rx="1.42" ry="2.02"/><ellipse cx="646.6" cy="574.2" rx="1.42" ry="2.02"/><ellipse cx="650.5" cy="574.2" rx="1.42" ry="2.02"/><ellipse cx="654.4" cy="574.2" rx="1.42" ry="2.02"/><ellipse cx="658.3" cy="574.2" rx="1.42" ry="2.02"/><ellipse cx="662.2" cy="574.2" rx="1.42" ry="2.02"/><ellipse cx="666.1" cy="574.2" rx="1.42" ry="2.02"/><ellipse cx="644.6" cy="579.4" rx="1.42" ry="2.02"/><ellipse cx="648.5" cy="579.4" rx="1.42" ry="2.02"/><ellipse cx="652.4" cy="579.4" rx="1.42" ry="2.02"/><ellipse cx="656.3" cy="579.4" rx="1.42" ry="2.02"/><ellipse cx="660.2" cy="579.4" rx="1.42" ry="2.02"/><ellipse cx="664.1" cy="579.4" rx="1.42" ry="2.02"/><ellipse cx="642.7" cy="584.6" rx="1.42" ry="2.02"/><ellipse cx="646.6" cy="584.6" rx="1.42" ry="2.02"/><ellipse cx="650.5" cy="584.6" rx="1.42" ry="2.02"/><ellipse cx="654.4" cy="584.6" rx="1.42" ry="2.02"/><ellipse cx="658.3" cy="584.6" rx="1.42" ry="2.02"/><ellipse cx="662.2" cy="584.6" rx="1.42" ry="2.02"/><ellipse cx="640.8" cy="589.8" rx="1.42" ry="2.02"/><ellipse cx="644.6" cy="589.8" rx="1.42" ry="2.02"/><ellipse cx="648.5" cy="589.8" rx="1.42" ry="2.02"/><ellipse cx="652.4" cy="589.8" rx="1.42" ry="2.02"/><ellipse cx="656.3" cy="589.8" rx="1.42" ry="2.02"/><ellipse cx="660.2" cy="589.8" rx="1.42" ry="2.02"/><ellipse cx="638.8" cy="595.0" rx="1.42" ry="2.02"/><ellipse cx="642.7" cy="595.0" rx="1.42" ry="2.02"/><ellipse cx="646.6" cy="595.0" rx="1.42" ry="2.02"/><ellipse cx="650.5" cy="595.0" rx="1.42" ry="2.02"/><ellipse cx="654.4" cy="595.0" rx="1.42" ry="2.02"/><ellipse cx="658.3" cy="595.0" rx="1.42" ry="2.02"/><ellipse cx="636.9" cy="600.2" rx="1.42" ry="2.02"/><ellipse cx="640.8" cy="600.2" rx="1.42" ry="2.02"/><ellipse cx="644.6" cy="600.2" rx="1.42" ry="2.02"/><ellipse cx="648.5" cy="600.2" rx="1.42" ry="2.02"/><ellipse cx="652.4" cy="600.2" rx="1.42" ry="2.02"/><ellipse cx="656.3" cy="600.2" rx="1.42" ry="2.02"/><ellipse cx="638.8" cy="605.4" rx="1.42" ry="2.02"/><ellipse cx="642.7" cy="605.4" rx="1.42" ry="2.02"/><ellipse cx="646.6" cy="605.4" rx="1.42" ry="2.02"/><ellipse cx="650.5" cy="605.4" rx="1.42" ry="2.02"/><ellipse cx="654.4" cy="605.4" rx="1.42" ry="2.02"/><ellipse cx="640.8" cy="610.6" rx="1.42" ry="2.02"/><ellipse cx="644.6" cy="610.6" rx="1.42" ry="2.02"/><ellipse cx="648.5" cy="610.6" rx="1.42" ry="2.02"/><ellipse cx="652.4" cy="610.6" rx="1.42" ry="2.02"/></g>
<g fill="#e8b45c"><ellipse cx="654.1" cy="553.1" rx="0.76" ry="1.20"/><ellipse cx="652.1" cy="558.3" rx="0.76" ry="1.20"/><ellipse cx="656.0" cy="558.3" rx="0.76" ry="1.20"/><ellipse cx="659.9" cy="558.3" rx="0.76" ry="1.20"/><ellipse cx="663.8" cy="558.3" rx="0.76" ry="1.20"/><ellipse cx="650.2" cy="563.5" rx="0.76" ry="1.20"/><ellipse cx="654.1" cy="563.5" rx="0.76" ry="1.20"/><ellipse cx="658.0" cy="563.5" rx="0.76" ry="1.20"/><ellipse cx="661.9" cy="563.5" rx="0.76" ry="1.20"/><ellipse cx="665.8" cy="563.5" rx="0.76" ry="1.20"/><ellipse cx="648.2" cy="568.7" rx="0.76" ry="1.20"/><ellipse cx="652.1" cy="568.7" rx="0.76" ry="1.20"/><ellipse cx="656.0" cy="568.7" rx="0.76" ry="1.20"/><ellipse cx="659.9" cy="568.7" rx="0.76" ry="1.20"/><ellipse cx="663.8" cy="568.7" rx="0.76" ry="1.20"/><ellipse cx="667.7" cy="568.7" rx="0.76" ry="1.20"/><ellipse cx="646.3" cy="573.9" rx="0.76" ry="1.20"/><ellipse cx="650.2" cy="573.9" rx="0.76" ry="1.20"/><ellipse cx="654.1" cy="573.9" rx="0.76" ry="1.20"/><ellipse cx="658.0" cy="573.9" rx="0.76" ry="1.20"/><ellipse cx="661.9" cy="573.9" rx="0.76" ry="1.20"/><ellipse cx="665.8" cy="573.9" rx="0.76" ry="1.20"/><ellipse cx="644.4" cy="579.1" rx="0.76" ry="1.20"/><ellipse cx="648.2" cy="579.1" rx="0.76" ry="1.20"/><ellipse cx="652.1" cy="579.1" rx="0.76" ry="1.20"/><ellipse cx="656.0" cy="579.1" rx="0.76" ry="1.20"/><ellipse cx="659.9" cy="579.1" rx="0.76" ry="1.20"/><ellipse cx="663.8" cy="579.1" rx="0.76" ry="1.20"/><ellipse cx="642.4" cy="584.3" rx="0.76" ry="1.20"/><ellipse cx="646.3" cy="584.3" rx="0.76" ry="1.20"/><ellipse cx="650.2" cy="584.3" rx="0.76" ry="1.20"/><ellipse cx="654.1" cy="584.3" rx="0.76" ry="1.20"/><ellipse cx="658.0" cy="584.3" rx="0.76" ry="1.20"/><ellipse cx="661.9" cy="584.3" rx="0.76" ry="1.20"/><ellipse cx="640.5" cy="589.5" rx="0.76" ry="1.20"/><ellipse cx="644.4" cy="589.5" rx="0.76" ry="1.20"/><ellipse cx="648.2" cy="589.5" rx="0.76" ry="1.20"/><ellipse cx="652.1" cy="589.5" rx="0.76" ry="1.20"/><ellipse cx="656.0" cy="589.5" rx="0.76" ry="1.20"/><ellipse cx="659.9" cy="589.5" rx="0.76" ry="1.20"/><ellipse cx="638.5" cy="594.7" rx="0.76" ry="1.20"/><ellipse cx="642.4" cy="594.7" rx="0.76" ry="1.20"/><ellipse cx="646.3" cy="594.7" rx="0.76" ry="1.20"/><ellipse cx="650.2" cy="594.7" rx="0.76" ry="1.20"/><ellipse cx="654.1" cy="594.7" rx="0.76" ry="1.20"/><ellipse cx="658.0" cy="594.7" rx="0.76" ry="1.20"/><ellipse cx="636.6" cy="599.9" rx="0.76" ry="1.20"/><ellipse cx="640.5" cy="599.9" rx="0.76" ry="1.20"/><ellipse cx="644.4" cy="599.9" rx="0.76" ry="1.20"/><ellipse cx="648.2" cy="599.9" rx="0.76" ry="1.20"/><ellipse cx="652.1" cy="599.9" rx="0.76" ry="1.20"/><ellipse cx="656.0" cy="599.9" rx="0.76" ry="1.20"/><ellipse cx="638.5" cy="605.1" rx="0.76" ry="1.20"/><ellipse cx="642.4" cy="605.1" rx="0.76" ry="1.20"/><ellipse cx="646.3" cy="605.1" rx="0.76" ry="1.20"/><ellipse cx="650.2" cy="605.1" rx="0.76" ry="1.20"/><ellipse cx="654.1" cy="605.1" rx="0.76" ry="1.20"/><ellipse cx="640.5" cy="610.3" rx="0.76" ry="1.20"/><ellipse cx="644.4" cy="610.3" rx="0.76" ry="1.20"/><ellipse cx="648.2" cy="610.3" rx="0.76" ry="1.20"/><ellipse cx="652.1" cy="610.3" rx="0.76" ry="1.20"/></g>
</g>
<line x1="541.0" y1="546.5" x2="540.2" y2="556.0" stroke="#2e2a24" stroke-width="2.2" />
<line x1="541.0" y1="546.5" x2="540.2" y2="555.0" stroke="#cfc6a8" stroke-width="0.9" />
<line x1="545.0" y1="546.5" x2="544.2" y2="556.0" stroke="#2e2a24" stroke-width="2.2" />
<line x1="545.0" y1="546.5" x2="544.2" y2="555.0" stroke="#cfc6a8" stroke-width="0.9" />
<line x1="549.0" y1="546.5" x2="548.2" y2="556.0" stroke="#2e2a24" stroke-width="2.2" />
<line x1="549.0" y1="546.5" x2="548.2" y2="555.0" stroke="#cfc6a8" stroke-width="0.9" />
<line x1="553.0" y1="546.5" x2="552.2" y2="556.0" stroke="#2e2a24" stroke-width="2.2" />
<line x1="553.0" y1="546.5" x2="552.2" y2="555.0" stroke="#cfc6a8" stroke-width="0.9" />
<line x1="645.0" y1="550.0" x2="645.4" y2="559.0" stroke="#2e2a24" stroke-width="2.2" />
<line x1="645.0" y1="550.0" x2="645.4" y2="558.0" stroke="#cfc6a8" stroke-width="0.9" />
<line x1="649.5" y1="550.0" x2="649.9" y2="559.0" stroke="#2e2a24" stroke-width="2.2" />
<line x1="649.5" y1="550.0" x2="649.9" y2="558.0" stroke="#cfc6a8" stroke-width="0.9" />
<line x1="654.0" y1="550.0" x2="654.4" y2="559.0" stroke="#2e2a24" stroke-width="2.2" />
<line x1="654.0" y1="550.0" x2="654.4" y2="558.0" stroke="#cfc6a8" stroke-width="0.9" />
<line x1="658.0" y1="550.0" x2="658.4" y2="559.0" stroke="#2e2a24" stroke-width="2.2" />
<line x1="658.0" y1="550.0" x2="658.4" y2="558.0" stroke="#cfc6a8" stroke-width="0.9" />
<line x1="662.0" y1="550.0" x2="662.4" y2="559.0" stroke="#2e2a24" stroke-width="2.2" />
<line x1="662.0" y1="550.0" x2="662.4" y2="558.0" stroke="#cfc6a8" stroke-width="0.9" />
<path d="M581.7,604 L581.7,633 Q596,640 612.4,633 L612.4,604 Z" fill="url(#shaft)" stroke="#1a1a1a" stroke-width="1.3" stroke-linejoin="round" stroke-linecap="round" />
<rect x="572.2" y="612.0" width="4.0" height="25.0" fill="#4f667e" stroke="#1a1a1a" stroke-width="1.0" />
<rect x="576.8" y="612.0" width="4.2" height="24.0" fill="#6d8499" stroke="#1a1a1a" stroke-width="1.0" />
<rect x="612.6" y="587.0" width="4.0" height="44.0" fill="#a9b9c6" stroke="#1a1a1a" stroke-width="1.0" />
<path d="M546,584 Q556,590 572,593 L610,596 L610,606 Q590,606 572,603 Q554,598 545.5,590 Z" fill="#9a7a5e" stroke="#1a1a1a" stroke-width="1.0" stroke-linejoin="round" stroke-linecap="round" />
<path d="M548.5,583 Q556,588.5 572,591 L572,597.5 Q556,594.5 549.5,588 Z" fill="#7d5f47" stroke="#1a1a1a" stroke-width="1.0" stroke-linejoin="round" stroke-linecap="round" />
<path d="M545.7,590 Q556,598 572,602 Q590,605 608,604.5 L608.5,612.4 Q590,613.4 572,610.8 Q556,607.6 546,600 Q543.6,595 545.7,590 Z" fill="url(#rim)" stroke="#1a1a1a" stroke-width="1.7" stroke-linejoin="round" stroke-linecap="round" />
<path d="M572.7,589 L588,588 L590,592.5 L596,589.5 Q604,588 607.5,592.5 Q609.5,597 606,598.5 Q609.5,600.5 607.5,604.3 L590,604.5 L573,601.5 Z" fill="#f7f8f9" stroke="#1a1a1a" stroke-width="1.3" stroke-linejoin="round" stroke-linecap="round" />
<path d="M574,590.2 L587,589.2 L588.5,594 L581,597.5 L574,596 Z" fill="#b9cede" stroke="#1a1a1a" stroke-width="0.9" stroke-linejoin="round" stroke-linecap="round" />
<path d="M578.5,595 Q581.5,590.5 584.5,593.5 Q585.5,597 581.5,597" fill="none" stroke="#1a1a1a" stroke-width="1.1" stroke-linejoin="round" stroke-linecap="round" />
<path d="M590,592.5 L590,598 Q598,597 606,598.5" fill="none" stroke="#1a1a1a" stroke-width="1.0" stroke-linejoin="round" stroke-linecap="round" />
<path d="M558,565.7 Q580,573 607,572 L612.5,574.5 L612.5,588 Q590,590.8 572,587 Q556,583.6 549.6,580.3 L541.7,588.2 Q540.3,580.5 545.7,575.8 Z" fill="#46535e" stroke="#1a1a1a" stroke-width="1.5" stroke-linejoin="round" stroke-linecap="round" />
<path d="M558,565.7 Q580,573 607,572 L604.7,575.2 Q595,576.6 580,576.4 Q565,576.4 548,574.7 Q552,570 558,565.7 Z" fill="#36424c" stroke="#1a1a1a" stroke-width="1.1" stroke-linejoin="round" stroke-linecap="round" />
<path d="M551,578 Q568,583 590,584.5 L611,584" fill="none" stroke="#232c33" stroke-width="1.0" stroke-linejoin="round" stroke-linecap="round" />
<path d="M610,566 L616,559.5 L622,558 L629,562 L634,571 L640,578 L640,589 L633,593 L626,590 L616,588.5 L610,584 Z" fill="#3f4d59" stroke="#1a1a1a" stroke-width="1.4" stroke-linejoin="round" stroke-linecap="round" />
<path d="M617,570 Q626,572 631,581" fill="none" stroke="#b9c3ca" stroke-width="1.6" stroke-linejoin="round" stroke-linecap="round" />
<path d="M614,578 L636,581" fill="none" stroke="#20282e" stroke-width="1.2" stroke-linejoin="round" stroke-linecap="round" />
<rect x="632.0" y="551.0" width="3.6" height="22.0" fill="#9aa8b2" stroke="#1a1a1a" stroke-width="0.9" />
<rect x="625.0" y="590.5" width="11.5" height="8.5" fill="#c3c9cb" stroke="#1a1a1a" stroke-width="1.1" />
<line x1="630.5" y1="591.0" x2="630.5" y2="599.0" stroke="#1a1a1a" stroke-width="0.9" />
<path d="M629.5,599 L635.5,599 L636.2,624 Q637,633.5 646,634.5 L646,639.5 Q631.5,639.5 630.5,625 Z" fill="#414f5f" stroke="#1a1a1a" stroke-width="1.3" stroke-linejoin="round" stroke-linecap="round" />
<path d="M531,622.5 L556,613 L572,612.5 L572,636 L566,640 L557,640 L557,650 L545,654 L531,656 Z" fill="#dcd9cc" stroke="#1a1a1a" stroke-width="1.2" stroke-linejoin="round" stroke-linecap="round" />
<path d="M557,640 L566,640 L566,647 L557,650 Z" fill="#7d9bb0" stroke="#1a1a1a" stroke-width="1.0" stroke-linejoin="round" stroke-linecap="round" />
<path d="M531,656 L545,654 L560,650 L560,662 L556,664 L556,669 L551,671 L551,676 L546,682 L538,685 L531,684 Z" fill="#dcd9cc" stroke="#1a1a1a" stroke-width="1.2" stroke-linejoin="round" stroke-linecap="round" />
<path d="M538,657 Q538,670 542.5,670 Q547,670 547,654.5 Z" fill="#5f6e7a" stroke="#1a1a1a" stroke-width="1.1" stroke-linejoin="round" stroke-linecap="round" />
<path d="M540,658 Q540,667 542,668" fill="none" stroke="#9aa8b2" stroke-width="1.0" stroke-linejoin="round" stroke-linecap="round" />
<path d="M637,614 L668,628 L668,660 L652,660 L652,650 L646,650 L646,640 L640,640 Z" fill="#dcd9cc" stroke="#1a1a1a" stroke-width="1.2" stroke-linejoin="round" stroke-linecap="round" />
<rect x="635.0" y="638.0" width="5.0" height="5.0" fill="#c9c9c4" stroke="#1a1a1a" stroke-width="1.0" />
<path d="M640,644 L652,650 L652,684 L646,684 L640,676 L634,668 L634,660 L630,652 Z" fill="#dcd9cc" stroke="#1a1a1a" stroke-width="1.1" stroke-linejoin="round" stroke-linecap="round" />
<path d="M630,664 Q634,660 637,666 L637,672 L631,670 Z" fill="#3a4a58" stroke="#1a1a1a" stroke-width="0.9" stroke-linejoin="round" stroke-linecap="round" />
<path d="M576,636 Q596,643 616,636 L622,646 Q596,656 570,646 Z" fill="#9a765a" stroke="#1a1a1a" stroke-width="1.1" stroke-linejoin="round" stroke-linecap="round" />
<path d="M578.0,638 Q596,644 614.0,638" fill="none" stroke="#3a2a1e" stroke-width="1.1" stroke-linejoin="round" stroke-linecap="round" />
<path d="M579.0,639.6 Q596,645.5 613.0,639.6" fill="none" stroke="#cbb49e" stroke-width="0.9" stroke-linejoin="round" stroke-linecap="round" />
<path d="M575.5,642 Q596,648 616.5,642" fill="none" stroke="#3a2a1e" stroke-width="1.1" stroke-linejoin="round" stroke-linecap="round" />
<path d="M576.5,643.6 Q596,649.5 615.5,643.6" fill="none" stroke="#cbb49e" stroke-width="0.9" stroke-linejoin="round" stroke-linecap="round" />
<path d="M573.0,646 Q596,652 619.0,646" fill="none" stroke="#3a2a1e" stroke-width="1.1" stroke-linejoin="round" stroke-linecap="round" />
<path d="M574.0,647.6 Q596,653.5 618.0,647.6" fill="none" stroke="#cbb49e" stroke-width="0.9" stroke-linejoin="round" stroke-linecap="round" />
<path d="M560,650 L572,641 L578,638 L578,643 L566,652 L566,660 L560,662 Z" fill="#3c4a58" stroke="#1a1a1a" stroke-width="1.0" stroke-linejoin="round" stroke-linecap="round" />
<path d="M616,638 L626,643 L634,652 L634,660 L628,656 L622,648 L616,644 Z" fill="#3c4a58" stroke="#1a1a1a" stroke-width="1.0" stroke-linejoin="round" stroke-linecap="round" />
<path d="M566,652 L578,646 L596,664 L575,668 L566,670 Z" fill="#9c7658" stroke="#1a1a1a" stroke-width="1.0" stroke-linejoin="round" stroke-linecap="round" />
<path d="M596,664 L620,650 L630,656 L634,668 L618,668 Z" fill="#4f7ea8" stroke="#1a1a1a" stroke-width="1.0" stroke-linejoin="round" stroke-linecap="round" />
<path d="M572,650 Q596,664 624,652 Q620,660 598,661.5 Q578,661 572,650 Z" fill="#2c3a46" stroke="#1a1a1a" stroke-width="1.1" stroke-linejoin="round" stroke-linecap="round" />
<path d="M576,649 Q596,658 620,650" fill="none" stroke="#c9d2d8" stroke-width="1.2" stroke-linejoin="round" stroke-linecap="round" />
<rect x="596.0" y="650.0" width="4.5" height="3.5" fill="#d9d6c8" stroke="#1a1a1a" stroke-width="0.8" />
<path d="M580,656 L596,663 L614,657" fill="none" stroke="#e8e8e8" stroke-width="1.0" stroke-linejoin="round" stroke-linecap="round" />
<path d="M530.0,681.9 L535.6,684.4 L543.8,680.7 L548.8,683.8 L555.0,679.9 L560.0,673.2 L570.0,668.2 L577.5,664.9 L592.5,662.5 L605.0,663.2 L617.5,666.3 L631.3,674.4 L641.3,681.9 L652.5,684.9 L659.5,685.7" fill="none" stroke="#151515" stroke-width="7.4" stroke-linejoin="round" stroke-linecap="round" />
<path d="M530.0,681.9 L535.6,684.4 L543.8,680.7 L548.8,683.8 L555.0,679.9 L560.0,673.2 L570.0,668.2 L577.5,664.9 L592.5,662.5 L605.0,663.2 L617.5,666.3 L631.3,674.4 L641.3,681.9 L652.5,684.9 L659.5,685.7" fill="none" stroke="#f7f7f3" stroke-width="5.0" stroke-linejoin="round" stroke-linecap="round" />
<path d="M530.0,681.9 L535.6,684.4 L543.8,680.7 L548.8,683.8 L555.0,679.9 L560.0,673.2 L570.0,668.2 L577.5,664.9 L592.5,662.5 L605.0,663.2 L617.5,666.3 L631.3,674.4 L641.3,681.9 L652.5,684.9 L659.5,685.7" fill="none" stroke="#151515" stroke-width="1.0" stroke-linejoin="round" stroke-linecap="round" />
<path d="M642.7,629 L646.3,623.5 L650,629 L650,688 Q646.3,691.5 642.7,688 Z" fill="#2a2a2a" stroke="#111" stroke-width="1.0" stroke-linejoin="round" stroke-linecap="round" />
<line x1="642.2" y1="631.0" x2="650.5" y2="632.2" stroke="#8a8a8a" stroke-width="0.8" />
<line x1="642.2" y1="633.6" x2="650.5" y2="634.8" stroke="#8a8a8a" stroke-width="0.8" />
<line x1="642.2" y1="636.2" x2="650.5" y2="637.4" stroke="#8a8a8a" stroke-width="0.8" />
<line x1="642.2" y1="638.8" x2="650.5" y2="640.0" stroke="#8a8a8a" stroke-width="0.8" />
<line x1="642.2" y1="641.4" x2="650.5" y2="642.6" stroke="#8a8a8a" stroke-width="0.8" />
<line x1="642.2" y1="644.0" x2="650.5" y2="645.2" stroke="#8a8a8a" stroke-width="0.8" />
<line x1="642.2" y1="646.6" x2="650.5" y2="647.8" stroke="#8a8a8a" stroke-width="0.8" />
<line x1="642.2" y1="649.2" x2="650.5" y2="650.4" stroke="#8a8a8a" stroke-width="0.8" />
<line x1="642.2" y1="651.8" x2="650.5" y2="653.0" stroke="#8a8a8a" stroke-width="0.8" />
<line x1="642.2" y1="654.4" x2="650.5" y2="655.6" stroke="#8a8a8a" stroke-width="0.8" />
<line x1="642.2" y1="657.0" x2="650.5" y2="658.2" stroke="#8a8a8a" stroke-width="0.8" />
<line x1="642.2" y1="659.6" x2="650.5" y2="660.8" stroke="#8a8a8a" stroke-width="0.8" />
<line x1="642.2" y1="662.2" x2="650.5" y2="663.4" stroke="#8a8a8a" stroke-width="0.8" />
<line x1="642.2" y1="664.8" x2="650.5" y2="666.0" stroke="#8a8a8a" stroke-width="0.8" />
<line x1="642.2" y1="667.4" x2="650.5" y2="668.6" stroke="#8a8a8a" stroke-width="0.8" />
<line x1="642.2" y1="670.0" x2="650.5" y2="671.2" stroke="#8a8a8a" stroke-width="0.8" />
<line x1="642.2" y1="672.6" x2="650.5" y2="673.8" stroke="#8a8a8a" stroke-width="0.8" />
<line x1="642.2" y1="675.2" x2="650.5" y2="676.4" stroke="#8a8a8a" stroke-width="0.8" />
<line x1="642.2" y1="677.8" x2="650.5" y2="679.0" stroke="#8a8a8a" stroke-width="0.8" />
<line x1="642.2" y1="680.4" x2="650.5" y2="681.6" stroke="#8a8a8a" stroke-width="0.8" />
<line x1="642.2" y1="683.0" x2="650.5" y2="684.2" stroke="#8a8a8a" stroke-width="0.8" />
<line x1="642.2" y1="685.6" x2="650.5" y2="686.8" stroke="#8a8a8a" stroke-width="0.8" />
<path d="M640,687 Q646,692 653,687" fill="none" stroke="#111" stroke-width="1.6" stroke-linejoin="round" stroke-linecap="round" />
<path d="M698.6,281 L695.7,640 Q695.5,649 690,652.5 Q683,657.5 671,660 L673.5,301 Q690,293 698.6,281 Z" fill="url(#shR)" stroke="#1a1a1a" stroke-width="1.5" stroke-linejoin="round" stroke-linecap="round" />
<polygon points="669.8,302.0 673.5,300.5 671.0,660.0 667.6,659.0" fill="#f2f1ea" stroke="#1a1a1a" stroke-width="1.0" stroke-linejoin="round" />
<path d="M643,281 L655,278.5 L698.5,281 Q690,293 673,300.5 L669.8,302 L642,294 Z" fill="#c9adaa" stroke="#1a1a1a" stroke-width="1.3" stroke-linejoin="round" stroke-linecap="round" />
<path d="M690,652.5 L690,670 Q688,682 660.5,688.5 L660,663.8 Q683,657.5 690,652.5 Z" fill="url(#capBR)" stroke="#1a1a1a" stroke-width="1.5" stroke-linejoin="round" stroke-linecap="round" />
<path d="M669.5,659.5 L658.6,663 L658.6,688.5" fill="none" stroke="#151515" stroke-width="5.2" stroke-linejoin="round" stroke-linecap="round" />
<path d="M669.5,659.5 L658.6,663 L658.6,688.5" fill="none" stroke="#f7f7f3" stroke-width="2.8" stroke-linejoin="round" stroke-linecap="round" />
<path d="M499.6,227 L497.5,640 Q498,650 505,652.5" fill="none" stroke="#1a1a1a" stroke-width="1.5" stroke-linejoin="round" stroke-linecap="round" />
<line x1="356.0" y1="269.3" x2="536.0" y2="269.3" stroke="#111" stroke-width="1.7" />
<line x1="398.0" y1="477.3" x2="541.0" y2="477.3" stroke="#111" stroke-width="1.7" />
<line x1="387.5" y1="653.5" x2="566.0" y2="653.5" stroke="#111" stroke-width="1.7" />
<line x1="679.0" y1="229.7" x2="766.0" y2="229.7" stroke="#111" stroke-width="1.7" />
<line x1="619.0" y1="277.0" x2="763.5" y2="277.0" stroke="#111" stroke-width="1.7" />
<line x1="687.8" y1="431.0" x2="769.0" y2="431.0" stroke="#111" stroke-width="1.7" />
<line x1="594.0" y1="581.6" x2="780.6" y2="581.6" stroke="#111" stroke-width="1.7" />
<g font-family="'Liberation Sans', Arial, Helvetica, sans-serif" font-size="19.1" fill="#141414">
<text x="206.9" y="161.3">Spline Protector</text>
<text x="207.2" y="180.7">and Sand Slinger</text>
<text x="212.6" y="258.8">Built-In Lightning</text>
<text x="212.6" y="278">Arrestors</text>
<text x="205.0" y="468">Hermetically Sealed</text>
<text x="205.0" y="487.8">Stator Windings With</text>
<text x="205.0" y="507.5">Anti-Track Resin System</text>
<text x="206.1" y="643.8">Pressure Equalizing</text>
<text x="206.1" y="663.8">Diaphragm</text>
<text x="772.8" y="163.5">Removable Water-Bloc</text>
<text x="772.8" y="184.2">Lead Assembly</text>
<text x="774.7" y="224.1">Biac Starting Switch</text>
<text x="774.7" y="244.1">(2-wire only)</text>
<text x="773.6" y="279.8">Water Lubrication</text>
<text x="773.7" y="427.5">Stainless Steel</text>
<text x="773.2" y="447.8">Exterior Construction</text>
<text x="787.7" y="576">Self-aligning</text>
<text x="787.2" y="595.6">Kingsbury-Type</text>
<text x="788.4" y="615.6">Thrust Bearing</text>
</g>
</svg>
</body></html>
